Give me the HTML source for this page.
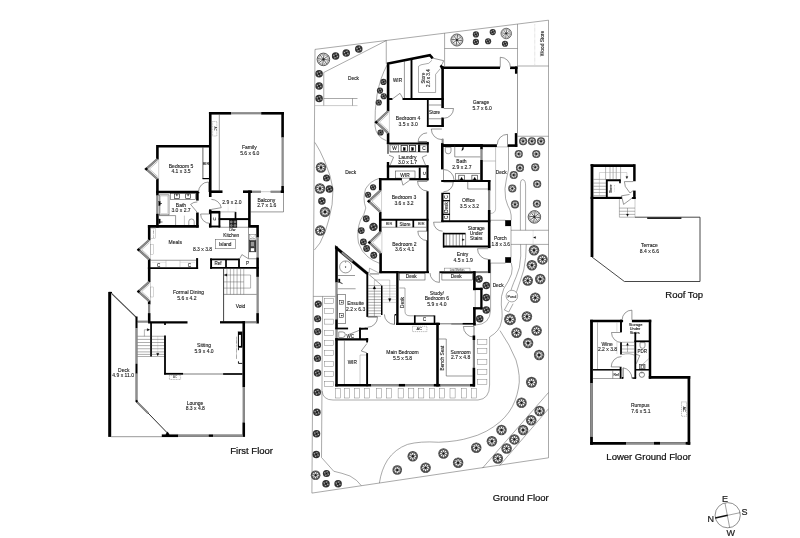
<!DOCTYPE html><html lang="en"><head><meta charset="utf-8"><title>Floor Plan</title><style>html,body{margin:0;padding:0;background:#fff}svg{display:block;filter:grayscale(1) blur(.35px)}text{font-family:"Liberation Sans",sans-serif}</style></head><body><svg width="800" height="538" viewBox="0 0 800 538"><rect width="800" height="538" fill="#fff"/><defs><g id="tb"><circle r="1" fill="#fff" stroke="#2a2a2a" stroke-width=".13"/><g stroke="#3a3a3a" stroke-width=".13" fill="none"><line x1="0" y1="0" x2="0.96" y2="0.13"/><line x1="0" y1="0" x2="0.58" y2="0.77"/><line x1="-0" y1="0" x2="-0.13" y2="0.96"/><line x1="-0" y1="0" x2="-0.77" y2="0.58"/><line x1="-0" y1="-0" x2="-0.96" y2="-0.13"/><line x1="-0" y1="-0" x2="-0.58" y2="-0.77"/><line x1="0" y1="-0" x2="0.13" y2="-0.96"/><line x1="0" y1="-0" x2="0.77" y2="-0.58"/></g><g stroke="#8a8a8a" stroke-width=".1" fill="none"><line x1="0.48" y1="0.27" x2="0.84" y2="0.48"/><line x1="0.14" y1="0.53" x2="0.25" y2="0.94"/><line x1="-0.27" y1="0.48" x2="-0.48" y2="0.84"/><line x1="-0.53" y1="0.14" x2="-0.94" y2="0.25"/><line x1="-0.48" y1="-0.28" x2="-0.84" y2="-0.49"/><line x1="-0.14" y1="-0.53" x2="-0.25" y2="-0.94"/><line x1="0.28" y1="-0.48" x2="0.49" y2="-0.84"/><line x1="0.53" y1="-0.14" x2="0.94" y2="-0.25"/><path d="M0.96 0.13Q0.54 0.31 0.58 0.77"/><path d="M0.58 0.77Q0.16 0.6 -0.13 0.96"/><path d="M-0.13 0.96Q-0.31 0.54 -0.77 0.58"/><path d="M-0.77 0.58Q-0.6 0.16 -0.96 -0.13"/><path d="M-0.96 -0.13Q-0.54 -0.31 -0.58 -0.77"/><path d="M-0.58 -0.77Q-0.16 -0.6 0.13 -0.96"/><path d="M0.13 -0.96Q0.31 -0.54 0.77 -0.58"/><path d="M0.77 -0.58Q0.6 -0.16 0.96 0.13"/></g><circle r=".15" fill="#222"/></g><g id="tm"><circle r=".98" fill="#484848"/><g stroke="#bbb" stroke-width=".1"><line x1="0.71" y1="0.13" x2="0.89" y2="0.16"/><line x1="0.46" y1="0.55" x2="0.58" y2="0.69"/><line x1="0" y1="0.72" x2="0" y2="0.9"/><line x1="-0.46" y1="0.55" x2="-0.58" y2="0.69"/><line x1="-0.71" y1="0.13" x2="-0.89" y2="0.16"/><line x1="-0.62" y1="-0.36" x2="-0.78" y2="-0.45"/><line x1="-0.25" y1="-0.68" x2="-0.31" y2="-0.85"/><line x1="0.25" y1="-0.68" x2="0.31" y2="-0.85"/><line x1="0.62" y1="-0.36" x2="0.78" y2="-0.45"/></g><circle r=".64" fill="#999"/><g stroke="#fff" stroke-width=".27"><line x1="0.22" y1="0" x2="0.6" y2="0"/><line x1="0.16" y1="0.16" x2="0.42" y2="0.42"/><line x1="0" y1="0.22" x2="0" y2="0.6"/><line x1="-0.16" y1="0.16" x2="-0.42" y2="0.42"/><line x1="-0.22" y1="0" x2="-0.6" y2="0"/><line x1="-0.16" y1="-0.16" x2="-0.42" y2="-0.42"/><line x1="-0" y1="-0.22" x2="-0" y2="-0.6"/><line x1="0.16" y1="-0.16" x2="0.42" y2="-0.42"/></g><g stroke="#1a1a1a" stroke-width=".1"><line x1="0" y1="0" x2="0.61" y2="0.25"/><line x1="0" y1="0" x2="0.26" y2="0.61"/><line x1="-0" y1="0" x2="-0.25" y2="0.61"/><line x1="-0" y1="0" x2="-0.61" y2="0.26"/><line x1="-0" y1="-0" x2="-0.61" y2="-0.25"/><line x1="-0" y1="-0" x2="-0.26" y2="-0.61"/><line x1="0" y1="-0" x2="0.25" y2="-0.61"/><line x1="0" y1="-0" x2="0.61" y2="-0.26"/></g><circle r=".2" fill="#1a1a1a"/></g><g id="ts"><circle r="1" fill="#303030"/><circle r=".5" fill="none" stroke="#5c5c5c" stroke-width=".2"/><g stroke="#e0e0e0" stroke-width=".19"><line x1="0.3" y1="0.11" x2="0.66" y2="0.24"/><line x1="-0.11" y1="0.3" x2="-0.24" y2="0.66"/><line x1="-0.3" y1="-0.11" x2="-0.66" y2="-0.24"/><line x1="0.11" y1="-0.3" x2="0.24" y2="-0.66"/></g><circle r=".17" fill="#111"/></g></defs>
<polyline points="315,49.4 548.5,20.2 548.5,457.8 311.9,493.1 315,49.4" fill="none" stroke="#555" stroke-width="0.5"/>
<polyline points="323.75,105.6 323.75,72.5 386.25,40.6 386.25,63.75" fill="none" stroke="#555" stroke-width="0.5"/>
<polyline points="323.75,98.5 357.5,98.5" fill="none" stroke="#555" stroke-width="0.5"/>
<polyline points="315,105.6 357.5,105.6" fill="none" stroke="#999" stroke-width="0.5"/>
<polyline points="352.5,98.5 352.5,105.6" fill="none" stroke="#555" stroke-width="0.5"/>
<text x="353.5" y="79.78" font-size="4.8" text-anchor="middle" fill="#222" stroke="#222" stroke-width=".12">Deck</text>
<polyline points="444.6,33.2 444.6,66.5" fill="none" stroke="#555" stroke-width="0.5"/>
<polyline points="444.6,48.5 517.5,48.5" fill="none" stroke="#555" stroke-width="0.5"/>
<polyline points="517.5,24.1 517.5,66.5" fill="none" stroke="#555" stroke-width="0.5"/>
<polyline points="517.5,66 548.5,66" fill="none" stroke="#555" stroke-width="0.5"/>
<polyline points="534.75,24.4 534.75,65" fill="none" stroke="#999" stroke-width="0.5" stroke-dasharray=".5 .7"/>
<text x="541.9" y="45.18" font-size="4.8" text-anchor="middle" fill="#222" stroke="#222" stroke-width=".12" transform="rotate(-90 541.9 43.5)">Wood Store</text>
<polyline points="517.5,136.25 548.5,136.25" fill="none" stroke="#555" stroke-width="0.5"/>
<path d="M387.3 64.5Q380 78 377 95Q374.6 110 375 126Q376 137 386.6 140.8" fill="none" stroke="#555" stroke-width="0.5"/>
<path d="M315 142.5Q320 150 325 162Q331 176 333 189Q333.2 205 329 219Q326 232 320 243L314.4 250" fill="none" stroke="#555" stroke-width="0.5"/>
<text x="350.6" y="173.58" font-size="4.8" text-anchor="middle" fill="#222" stroke="#222" stroke-width=".12">Deck</text>
<path d="M379.5 178.3Q370 181 365.5 189Q362.5 199 365.8 208Q364.5 215 360.5 220Q356.3 231 358.5 243Q361.5 252 368 257Q373 261 379.5 263.3" fill="none" stroke="#555" stroke-width="0.5"/>
<polyline points="313.3,296.4 335.4,296.4" fill="none" stroke="#555" stroke-width="0.5"/>
<path d="M322.6 296.4L321.5 457.5L333.75 471.25Q342 473 350 476Q357.5 480 361.25 485.6" fill="none" stroke="#555" stroke-width="0.5"/>
<rect x="324.3" y="298.35" width="9.4" height="5" fill="none" stroke="#666" stroke-width="0.4"/>
<rect x="324.3" y="308.6" width="9.4" height="5" fill="none" stroke="#666" stroke-width="0.4"/>
<rect x="324.3" y="319.1" width="9.4" height="5" fill="none" stroke="#666" stroke-width="0.4"/>
<rect x="324.3" y="330.4" width="9.4" height="5" fill="none" stroke="#666" stroke-width="0.4"/>
<rect x="324.3" y="340.6" width="9.4" height="5" fill="none" stroke="#666" stroke-width="0.4"/>
<rect x="324.3" y="350.8" width="9.4" height="5" fill="none" stroke="#666" stroke-width="0.4"/>
<rect x="324.3" y="361.2" width="9.4" height="5" fill="none" stroke="#666" stroke-width="0.4"/>
<rect x="324.3" y="371.5" width="9.4" height="5" fill="none" stroke="#666" stroke-width="0.4"/>
<rect x="324.3" y="381.5" width="9.4" height="5" fill="none" stroke="#666" stroke-width="0.4"/>
<rect x="335.6" y="388.6" width="5.1" height="9.4" fill="none" stroke="#666" stroke-width="0.4"/>
<rect x="344.4" y="388.6" width="5.1" height="9.4" fill="none" stroke="#666" stroke-width="0.4"/>
<rect x="354.4" y="388.6" width="5.1" height="9.4" fill="none" stroke="#666" stroke-width="0.4"/>
<rect x="364.4" y="388.6" width="5.1" height="9.4" fill="none" stroke="#666" stroke-width="0.4"/>
<rect x="376.25" y="388.6" width="5.1" height="9.4" fill="none" stroke="#666" stroke-width="0.4"/>
<rect x="386.25" y="388.6" width="5.1" height="9.4" fill="none" stroke="#666" stroke-width="0.4"/>
<rect x="398.1" y="388.6" width="5.1" height="9.4" fill="none" stroke="#666" stroke-width="0.4"/>
<rect x="408.75" y="388.6" width="5.1" height="9.4" fill="none" stroke="#666" stroke-width="0.4"/>
<rect x="418.75" y="388.6" width="5.1" height="9.4" fill="none" stroke="#666" stroke-width="0.4"/>
<rect x="429.4" y="388.6" width="5.1" height="9.4" fill="none" stroke="#666" stroke-width="0.4"/>
<rect x="439.4" y="388.6" width="5.1" height="9.4" fill="none" stroke="#666" stroke-width="0.4"/>
<rect x="450" y="388.6" width="5.1" height="9.4" fill="none" stroke="#666" stroke-width="0.4"/>
<rect x="461.25" y="388.6" width="5.1" height="9.4" fill="none" stroke="#666" stroke-width="0.4"/>
<rect x="471.4" y="388.6" width="5.1" height="9.4" fill="none" stroke="#666" stroke-width="0.4"/>
<rect x="477.5" y="339.75" width="9.4" height="4.9" fill="none" stroke="#666" stroke-width="0.4"/>
<rect x="477.5" y="348.5" width="9.4" height="4.9" fill="none" stroke="#666" stroke-width="0.4"/>
<rect x="477.5" y="359.4" width="9.4" height="4.9" fill="none" stroke="#666" stroke-width="0.4"/>
<rect x="477.5" y="369.4" width="9.4" height="4.9" fill="none" stroke="#666" stroke-width="0.4"/>
<rect x="477.5" y="379.4" width="9.4" height="4.9" fill="none" stroke="#666" stroke-width="0.4"/>
<path d="M322 391Q323 400 333 400L478 400Q489.6 399 489.6 385L489.6 337Q500 331 501.3 322Q503 317 501.3 305Q500.5 296 503.75 288.75Q509 281 511.5 274Q513 268 511.25 262.75" fill="none" stroke="#555" stroke-width="0.5"/>
<path d="M490.6 263.1L490.6 310Q490 324.6 475.6 325" fill="none" stroke="#555" stroke-width="0.5"/>
<polyline points="490.3,263.1 505.4,263.1" fill="none" stroke="#555" stroke-width="0.5"/>
<text x="498.1" y="286.78" font-size="4.8" text-anchor="middle" fill="#222" stroke="#222" stroke-width=".12">Deck</text>
<path d="M500 330.6Q510 345 516 360Q521 377 518.5 388Q516 402 509 412Q501.25 423 486.25 431.25Q477 436 470 437.5Q458 441.5 438.75 442.25Q420 441 407.5 444.4Q395 449 387.5 460Q381.25 470 379.4 483.1" fill="none" stroke="#555" stroke-width="0.5"/>
<polyline points="548.5,392.5 482.5,468.1" fill="none" stroke="#555" stroke-width="0.5"/>
<polyline points="548.5,408.75 499.6,465.6" fill="none" stroke="#555" stroke-width="0.5"/>
<polyline points="490.3,220.25 505.3,220.25" fill="none" stroke="#555" stroke-width="0.5"/>
<rect x="505.25" y="220.25" width="5.75" height="5.75" fill="#000" stroke="#000" stroke-width="0.2"/>
<rect x="505.25" y="257.25" width="5.75" height="5.5" fill="#000" stroke="#000" stroke-width="0.2"/>
<polyline points="511,226 511,257.25" fill="none" stroke="#555" stroke-width="0.5"/>
<polyline points="511,230.25 548.5,230.25" fill="none" stroke="#555" stroke-width="0.5"/>
<polyline points="511,244.4 548.5,244.4" fill="none" stroke="#555" stroke-width="0.5"/>
<polyline points="533.1,230.25 533.1,244.4" fill="none" stroke="#888" stroke-width="0.4" stroke-dasharray=".6 .6"/>
<path d="M533.4 237.5l2.2 -1v2z" fill="#000" stroke="#000" stroke-width="0.2"/>
<text x="500.3" y="240.18" font-size="4.8" text-anchor="middle" fill="#222" stroke="#222" stroke-width=".12">Porch</text>
<text x="500.8" y="245.58" font-size="4.8" text-anchor="middle" fill="#222" stroke="#222" stroke-width=".12">1.8 x 3.6</text>
<polyline points="482.7,146.9 508.5,146.9" fill="none" stroke="#888" stroke-width="0.5"/>
<polyline points="482.7,161 495.6,161" fill="none" stroke="#888" stroke-width="0.5"/>
<path d="M495.6 146.9L495.6 209Q495.3 213.4 490.3 213.5" fill="none" stroke="#888" stroke-width="0.5"/>
<path d="M508.5 146.9L508.5 170Q507 176 506.25 180Q504 188 505.6 198.75Q507.5 206 510 210Q511.6 215 511.25 220.25" fill="none" stroke="#555" stroke-width="0.5"/>
<text x="501.25" y="173.93" font-size="4.8" text-anchor="middle" fill="#222" stroke="#222" stroke-width=".12">Deck</text>
<path d="M520.4 230.25L520.4 186Q520.2 179.6 522.6 179.6Q525.6 179.6 525.6 186L525.6 230.25" fill="none" stroke="#555" stroke-width="0.5"/>
<path d="M520.6 244.4Q521.5 256 519.4 267.5Q516 278 513.75 282.5Q511.6 288 511 290.2" fill="none" stroke="#555" stroke-width="0.5"/>
<path d="M526.25 244.4Q526.3 258 523.75 270Q520 282 517.5 289Q516.5 292 516 293" fill="none" stroke="#555" stroke-width="0.5"/>
<circle cx="511.9" cy="296.1" r="5.8" fill="#fff" stroke="#555" stroke-width="0.5"/>
<text x="511.9" y="297.5" font-size="3.7" text-anchor="middle" fill="#222" stroke="#222" stroke-width=".12">Pond</text>
<path d="M508.75 301.9L504.4 310L508.75 312L513.1 303.75" fill="none" stroke="#555" stroke-width="0.5"/>
<use href="#tb" transform="translate(323.4 59.4) scale(6.25)"/>
<use href="#tb" transform="translate(456.9 40) scale(6)"/>
<use href="#tb" transform="translate(506.25 33.5) scale(5.25)"/>
<use href="#tm" transform="translate(321 167.5) scale(5.35)"/>
<use href="#tm" transform="translate(320 188.5) scale(5.35)"/>
<use href="#tm" transform="translate(325 211.9) scale(5.35)"/>
<use href="#tm" transform="translate(320.25 230.6) scale(5.35)"/>
<use href="#tb" transform="translate(534.4 216.9) scale(6.25)"/>
<use href="#tm" transform="translate(534 250.25) scale(5.35)"/>
<use href="#tm" transform="translate(542.5 259.4) scale(5.35)"/>
<use href="#tm" transform="translate(531.9 265.25) scale(5.35)"/>
<use href="#tm" transform="translate(527.75 280.6) scale(5.35)"/>
<use href="#tm" transform="translate(540.25 279) scale(5.35)"/>
<use href="#tm" transform="translate(535.25 297.75) scale(5.35)"/>
<use href="#tm" transform="translate(510 319.4) scale(5.99)"/>
<use href="#tm" transform="translate(526.9 316.5) scale(5.35)"/>
<use href="#tm" transform="translate(516.5 332.75) scale(5.35)"/>
<use href="#tm" transform="translate(536.6 330.6) scale(5.35)"/>
<use href="#tm" transform="translate(528.1 343.1) scale(5.35)"/>
<use href="#tm" transform="translate(539.1 355) scale(5.35)"/>
<use href="#tm" transform="translate(531.5 382.25) scale(5.62)"/>
<use href="#tm" transform="translate(521.5 402.75) scale(5.35)"/>
<use href="#tm" transform="translate(539.6 411) scale(5.35)"/>
<use href="#tm" transform="translate(531.25 420.25) scale(5.35)"/>
<use href="#tm" transform="translate(523.1 430) scale(5.35)"/>
<use href="#tm" transform="translate(514.4 439.4) scale(5.35)"/>
<use href="#tm" transform="translate(501.5 430) scale(5.35)"/>
<use href="#tm" transform="translate(491.9 441.25) scale(5.35)"/>
<use href="#tm" transform="translate(506.6 448.5) scale(5.35)"/>
<use href="#tm" transform="translate(497.8 458.5) scale(5.35)"/>
<use href="#tm" transform="translate(397.25 470) scale(4.92)"/>
<use href="#tm" transform="translate(412.75 456.25) scale(5.35)"/>
<use href="#tm" transform="translate(425.6 467.75) scale(5.35)"/>
<use href="#tm" transform="translate(443.5 453.5) scale(5.35)"/>
<use href="#tm" transform="translate(458.1 462.75) scale(5.35)"/>
<use href="#tm" transform="translate(476.25 447.75) scale(5.35)"/>
<use href="#tm" transform="translate(315.6 475.25) scale(4.92)"/>
<use href="#tm" transform="translate(523.1 141.25) scale(4.17)"/>
<use href="#tm" transform="translate(531.9 141.25) scale(4.17)"/>
<use href="#tm" transform="translate(541 141.25) scale(4.17)"/>
<use href="#tm" transform="translate(518.75 154) scale(4.17)"/>
<use href="#tm" transform="translate(536.25 154) scale(4.17)"/>
<use href="#tm" transform="translate(520 167.9) scale(4.17)"/>
<use href="#tm" transform="translate(535.25 167.25) scale(4.17)"/>
<use href="#tm" transform="translate(513.75 175) scale(4.17)"/>
<use href="#tm" transform="translate(537.2 184) scale(4.17)"/>
<use href="#tm" transform="translate(512.3 188.5) scale(4.17)"/>
<use href="#tm" transform="translate(515 204.4) scale(4.17)"/>
<use href="#tm" transform="translate(536.9 203.75) scale(4.17)"/>
<use href="#ts" transform="translate(335.6 56) scale(3.75)"/>
<use href="#ts" transform="translate(346.25 53.1) scale(3.75)"/>
<use href="#ts" transform="translate(358.75 49) scale(3.75)"/>
<use href="#ts" transform="translate(319.1 73.75) scale(3.75)"/>
<use href="#ts" transform="translate(319.1 86) scale(3.75)"/>
<use href="#ts" transform="translate(319.1 98.5) scale(3.75)"/>
<use href="#ts" transform="translate(475.9 34.4) scale(3.1)"/>
<use href="#ts" transform="translate(475.9 41.9) scale(3.1)"/>
<use href="#ts" transform="translate(492.75 32.1) scale(3.1)"/>
<use href="#ts" transform="translate(488.1 41.25) scale(3.1)"/>
<use href="#ts" transform="translate(505 43.75) scale(3.1)"/>
<use href="#ts" transform="translate(383.5 81.9) scale(3.1)"/>
<use href="#ts" transform="translate(380 90.6) scale(3.1)"/>
<use href="#ts" transform="translate(383.75 96.25) scale(3.1)"/>
<use href="#ts" transform="translate(378.75 102.5) scale(3.1)"/>
<use href="#ts" transform="translate(380.6 132.5) scale(3.1)"/>
<use href="#ts" transform="translate(326.5 178.1) scale(3.5)"/>
<use href="#ts" transform="translate(329.4 189) scale(3.75)"/>
<use href="#ts" transform="translate(321.9 201) scale(3.75)"/>
<use href="#ts" transform="translate(373.1 187.25) scale(3.1)"/>
<use href="#ts" transform="translate(368.1 194.75) scale(3.1)"/>
<use href="#ts" transform="translate(366.25 218.75) scale(3.4)"/>
<use href="#ts" transform="translate(373.5 226.9) scale(4.2)"/>
<use href="#ts" transform="translate(361.25 230.6) scale(3.4)"/>
<use href="#ts" transform="translate(363.4 241.9) scale(3.4)"/>
<use href="#ts" transform="translate(366.6 248.5) scale(3.4)"/>
<use href="#ts" transform="translate(373.75 255.25) scale(3.4)"/>
<use href="#ts" transform="translate(479 278.9) scale(3.75)"/>
<use href="#ts" transform="translate(486.25 285.6) scale(3.75)"/>
<use href="#ts" transform="translate(486.25 297.4) scale(3.75)"/>
<use href="#ts" transform="translate(486.25 310) scale(3.75)"/>
<use href="#ts" transform="translate(479.75 318.75) scale(3.75)"/>
<use href="#ts" transform="translate(318.2 304.1) scale(3.6)"/>
<use href="#ts" transform="translate(317.6 318.75) scale(3.6)"/>
<use href="#ts" transform="translate(317.6 331.6) scale(3.6)"/>
<use href="#ts" transform="translate(317.5 345) scale(3.6)"/>
<use href="#ts" transform="translate(317.5 358.4) scale(3.6)"/>
<use href="#ts" transform="translate(317.5 373.1) scale(3.75)"/>
<use href="#ts" transform="translate(317.25 392.25) scale(3.75)"/>
<use href="#ts" transform="translate(316.9 412.25) scale(3.75)"/>
<use href="#ts" transform="translate(316.5 433.75) scale(3.75)"/>
<use href="#ts" transform="translate(316.25 454.4) scale(3.75)"/>
<use href="#ts" transform="translate(326.5 473.5) scale(3.6)"/>
<use href="#ts" transform="translate(326 483.75) scale(3.75)"/>
<use href="#ts" transform="translate(338.1 483.75) scale(3.75)"/>
<text x="520.8" y="501.32" font-size="9.5" text-anchor="middle" fill="#111" stroke="#111" stroke-width=".22">Ground Floor</text>
<polyline points="210.25,112 210.25,197" fill="none" stroke="#000" stroke-width="2.6" stroke-linejoin="miter"/>
<polyline points="208.95,113.3 231.2,113.3" fill="none" stroke="#000" stroke-width="2.6" stroke-linejoin="miter"/>
<polyline points="231.2,113.3 261.2,113.3" fill="none" stroke="#6a6a6a" stroke-width="2"/>
<polyline points="231.2,113.3 261.2,113.3" fill="none" stroke="#8e8e8e" stroke-width="1.2"/>
<polyline points="261.2,113.3 283.9,113.3" fill="none" stroke="#000" stroke-width="2.6" stroke-linejoin="miter"/>
<polyline points="282.6,112 282.6,137.5" fill="none" stroke="#000" stroke-width="2.6" stroke-linejoin="miter"/>
<polyline points="282.6,137.5 282.6,186" fill="none" stroke="#6a6a6a" stroke-width="2"/>
<polyline points="282.6,137.5 282.6,186" fill="none" stroke="#8e8e8e" stroke-width="1.2"/>
<polyline points="282.6,186 282.6,193" fill="none" stroke="#000" stroke-width="2.6" stroke-linejoin="miter"/>
<polyline points="210,191.7 222.5,191.7" fill="none" stroke="#000" stroke-width="2.6" stroke-linejoin="miter"/>
<polyline points="243,191.7 252,191.7" fill="none" stroke="#000" stroke-width="2.6" stroke-linejoin="miter"/>
<polyline points="252,191.7 261,191.7" fill="none" stroke="#6a6a6a" stroke-width="2"/>
<polyline points="252,191.7 261,191.7" fill="none" stroke="#8e8e8e" stroke-width="1.2"/>
<polyline points="261,191.7 270.6,191.7" fill="none" stroke="#999" stroke-width="0.5"/>
<polyline points="270.6,191.7 280.6,191.7" fill="none" stroke="#6a6a6a" stroke-width="2"/>
<polyline points="270.6,191.7 280.6,191.7" fill="none" stroke="#8e8e8e" stroke-width="1.2"/>
<polyline points="280.6,191.7 283.9,191.7" fill="none" stroke="#000" stroke-width="2.6" stroke-linejoin="miter"/>
<polyline points="219.3,114.5 219.3,191.5" fill="none" stroke="#333" stroke-width="0.5"/>
<rect x="212.6" y="121.5" width="4.2" height="14.5" fill="none" stroke="#666" stroke-width="0.4" stroke-dasharray="1 .6"/>
<text x="214.8" y="129.75" font-size="3" text-anchor="middle" fill="#222" transform="rotate(90 214.8 128.7)">AC</text>
<text x="249.3" y="148.75" font-size="5" text-anchor="middle" fill="#222" stroke="#222" stroke-width=".12">Family</text>
<text x="249.8" y="154.95" font-size="5" text-anchor="middle" fill="#222" stroke="#222" stroke-width=".12">5.6 x 6.0</text>
<polyline points="249.4,190.4 249.4,226.4 257.6,226.4 257.6,237.5" fill="none" stroke="#000" stroke-width="2.6" stroke-linejoin="miter"/>
<polyline points="250.2,211.9 283.5,211.9 283.5,193" fill="none" stroke="#333" stroke-width="0.5"/>
<text x="266.3" y="201.75" font-size="5" text-anchor="middle" fill="#222" stroke="#222" stroke-width=".12">Balcony</text>
<text x="266.8" y="207.05" font-size="5" text-anchor="middle" fill="#222" stroke="#222" stroke-width=".12">2.7 x 1.6</text>
<polyline points="157.4,159.5 157.4,146.25 209,146.25" fill="none" stroke="#000" stroke-width="2.6" stroke-linejoin="miter"/>
<polyline points="157.4,178.5 157.4,195.6" fill="none" stroke="#000" stroke-width="2.6" stroke-linejoin="miter"/>
<polyline points="157.4,195.6 157.4,213.75" fill="none" stroke="#6a6a6a" stroke-width="2"/>
<polyline points="157.4,195.6 157.4,213.75" fill="none" stroke="#8e8e8e" stroke-width="1.2"/>
<polyline points="157.4,213.75 157.4,227.5" fill="none" stroke="#000" stroke-width="2.6" stroke-linejoin="miter"/>
<polyline points="157.4,159 146.2,169 157.4,179" fill="none" stroke="#666" stroke-width="2.3"/>
<polyline points="157.4,159 146.2,169 157.4,179" fill="none" stroke="#8e8e8e" stroke-width="1.38"/>
<path d="M144.6 169L146.2 167.5L147.8 169L146.2 170.5z" fill="#000" stroke="#000" stroke-width="0.2"/>
<polyline points="157.6,161.6 149.4,169 157.6,176.4" fill="none" stroke="#555" stroke-width="0.35"/>
<polyline points="158.7,159 158.7,179" fill="none" stroke="#777" stroke-width="0.35"/>
<polyline points="156.1,192 199.4,192" fill="none" stroke="#000" stroke-width="2.6" stroke-linejoin="miter"/>
<polyline points="202.9,147.4 202.9,178.6" fill="none" stroke="#222" stroke-width="0.7"/>
<polyline points="202.5,178.6 209.2,178.6" fill="none" stroke="#000" stroke-width="1.2" stroke-linejoin="miter"/>
<text x="206" y="164.83" font-size="3.8" text-anchor="middle" fill="#222" stroke="#222" stroke-width=".12">BIR</text>
<path d="M208.5 192L208.5 182A10 10 0 0 0 198.5 192" fill="#fff" stroke="#333" stroke-width="0.5"/>
<text x="181" y="168.25" font-size="5" text-anchor="middle" fill="#222" stroke="#222" stroke-width=".12">Bedroom 5</text>
<text x="181" y="173.25" font-size="5" text-anchor="middle" fill="#222" stroke="#222" stroke-width=".12">4.1 x 3.5</text>
<polyline points="197.4,192 197.4,200.6" fill="none" stroke="#000" stroke-width="2.6" stroke-linejoin="miter"/>
<polyline points="197.4,212.5 197.4,227.5" fill="none" stroke="#000" stroke-width="2.6" stroke-linejoin="miter"/>
<path d="M197.4 212.5L190.59 204.38A10.6 10.6 0 0 1 197.4 201.9" fill="#fff" stroke="#333" stroke-width="0.5"/>
<rect x="159.5" y="194.9" width="9.5" height="20" fill="none" stroke="#333" stroke-width="0.5"/>
<rect x="160.6" y="196" width="7.3" height="17.8" fill="none" stroke="#888" stroke-width="0.3"/>
<rect x="170.5" y="193.3" width="25.1" height="6.1" fill="none" stroke="#333" stroke-width="0.5"/>
<rect x="174.5" y="194" width="4.8" height="4.3" fill="none" stroke="#111" stroke-width="0.6"/>
<polyline points="176.9,194 176.9,196.2" fill="none" stroke="#000" stroke-width="0.9"/>
<rect x="185.7" y="194" width="4.8" height="4.3" fill="none" stroke="#111" stroke-width="0.6"/>
<polyline points="188.1,194 188.1,196.2" fill="none" stroke="#000" stroke-width="0.9"/>
<polyline points="159,215.6 175.6,215.6 175.6,225.5" fill="none" stroke="#333" stroke-width="0.5"/>
<polyline points="184.4,215.6 184.4,225.5" fill="none" stroke="#777" stroke-width="0.4"/>
<rect x="158.8" y="201.5" width="1.4" height="4" fill="#000" stroke="#000" stroke-width="0.3"/>
<polyline points="160,203.5 162,203.5" fill="none" stroke="#000" stroke-width="0.6"/>
<rect x="158.8" y="219" width="1.4" height="4.5" fill="#000" stroke="#000" stroke-width="0.3"/>
<polyline points="160,222 162.5,222" fill="none" stroke="#000" stroke-width="0.6"/>
<path d="M188.8 225.5L188.8 221.4A2.7 2.4 0 0 1 194.2 221.4L194.2 225.5" fill="none" stroke="#333" stroke-width="0.5"/>
<text x="181" y="206.65" font-size="5" text-anchor="middle" fill="#222" stroke="#222" stroke-width=".12">Bath</text>
<text x="181" y="211.65" font-size="5" text-anchor="middle" fill="#222" stroke="#222" stroke-width=".12">3.0 x 2.7</text>
<polyline points="210.25,209.4 210.25,227.5" fill="none" stroke="#000" stroke-width="2.6" stroke-linejoin="miter"/>
<polyline points="208.95,212.2 220.25,212.2" fill="none" stroke="#000" stroke-width="2.6" stroke-linejoin="miter"/>
<polyline points="219.4,211.25 219.4,227.5" fill="none" stroke="#000" stroke-width="1.9" stroke-linejoin="miter"/>
<polyline points="209,226.5 220.3,226.5" fill="none" stroke="#000" stroke-width="1.9" stroke-linejoin="miter"/>
<path d="M211.4 209.4L221.25 207.66A10 10 0 0 0 211.4 199.4" fill="#fff" stroke="#333" stroke-width="0.5"/>
<polyline points="218.75,219.1 249,219.1" fill="none" stroke="#000" stroke-width="2" stroke-linejoin="miter"/>
<polyline points="235.5,211.9 235.5,219" fill="none" stroke="#000" stroke-width="1.7" stroke-linejoin="miter"/>
<polyline points="220.3,211.9 235.5,211.9" fill="none" stroke="#999" stroke-width="0.7"/>
<polyline points="228.1,204.5 228.1,211.9" fill="none" stroke="#aaa" stroke-width="0.35" stroke-dasharray=".6 .6"/>
<polyline points="236,204.5 236,211.9" fill="none" stroke="#aaa" stroke-width="0.35" stroke-dasharray=".6 .6"/>
<text x="214.4" y="220.47" font-size="4.2" text-anchor="middle" fill="#222" stroke="#222" stroke-width=".12" transform="rotate(-90 214.4 219)">C</text>
<path d="M210 214L200.6 214A9.4 9.4 0 0 0 210 223.4" fill="#fff" stroke="#333" stroke-width="0.5"/>
<text x="231.9" y="203.65" font-size="5" text-anchor="middle" fill="#222" stroke="#222" stroke-width=".12">2.9 x 2.0</text>
<rect x="229.4" y="220" width="7.5" height="7.4" fill="#222" stroke="#000" stroke-width="0.4"/>
<circle cx="231.3" cy="221.9" r="1" fill="#666" stroke="#ddd" stroke-width="0.35"/>
<circle cx="231.3" cy="225.5" r="1" fill="#666" stroke="#ddd" stroke-width="0.35"/>
<circle cx="235" cy="221.9" r="1" fill="#666" stroke="#ddd" stroke-width="0.35"/>
<circle cx="235" cy="225.5" r="1" fill="#666" stroke="#ddd" stroke-width="0.35"/>
<polyline points="220.3,227.25 248.2,227.25" fill="none" stroke="#333" stroke-width="0.5"/>
<polyline points="147.9,226.4 198.7,226.4" fill="none" stroke="#000" stroke-width="2.6" stroke-linejoin="miter"/>
<polyline points="149.2,225.1 149.2,240.2" fill="none" stroke="#000" stroke-width="2.6" stroke-linejoin="miter"/>
<polyline points="149.2,258.8 149.2,282" fill="none" stroke="#000" stroke-width="2.6" stroke-linejoin="miter"/>
<polyline points="149.2,300.6 149.2,304.4" fill="none" stroke="#000" stroke-width="2.6" stroke-linejoin="miter"/>
<polyline points="149.2,304.4 149.2,313.1" fill="none" stroke="#6a6a6a" stroke-width="2"/>
<polyline points="149.2,304.4 149.2,313.1" fill="none" stroke="#8e8e8e" stroke-width="1.2"/>
<polyline points="149.2,313.1 149.2,322.5" fill="none" stroke="#000" stroke-width="2.6" stroke-linejoin="miter"/>
<polyline points="149.2,240 138.5,249.7 149.2,259.4" fill="none" stroke="#666" stroke-width="2.3"/>
<polyline points="149.2,240 138.5,249.7 149.2,259.4" fill="none" stroke="#8e8e8e" stroke-width="1.38"/>
<path d="M136.9 249.7L138.5 248.2L140.1 249.7L138.5 251.2z" fill="#000" stroke="#000" stroke-width="0.2"/>
<polyline points="149.4,242.6 141.7,249.7 149.4,256.8" fill="none" stroke="#555" stroke-width="0.35"/>
<polyline points="150.5,240 150.5,259.4" fill="none" stroke="#777" stroke-width="0.35"/>
<polyline points="149.2,281.8 138.5,291.5 149.2,301.2" fill="none" stroke="#666" stroke-width="2.3"/>
<polyline points="149.2,281.8 138.5,291.5 149.2,301.2" fill="none" stroke="#8e8e8e" stroke-width="1.38"/>
<path d="M136.9 291.5L138.5 290L140.1 291.5L138.5 293z" fill="#000" stroke="#000" stroke-width="0.2"/>
<polyline points="149.4,284.4 141.7,291.5 149.4,298.6" fill="none" stroke="#555" stroke-width="0.35"/>
<polyline points="150.5,281.8 150.5,301.2" fill="none" stroke="#777" stroke-width="0.35"/>
<rect x="150.8" y="228.75" width="4.8" height="10" fill="none" stroke="#777" stroke-width="0.3"/>
<text x="153.2" y="234.19" font-size="1.4" text-anchor="middle" fill="#777" transform="rotate(90 153.2 233.7)">Window Seat</text>
<rect x="150.6" y="244.4" width="3.2" height="10" fill="none" stroke="#777" stroke-width="0.3"/>
<rect x="150.6" y="287" width="3.2" height="10" fill="none" stroke="#777" stroke-width="0.3"/>
<polyline points="150.4,260.25 196,260.25" fill="none" stroke="#333" stroke-width="0.5"/>
<polyline points="147.9,268.1 198.1,268.1" fill="none" stroke="#000" stroke-width="1.9" stroke-linejoin="miter"/>
<polyline points="197.1,258.1 197.1,269" fill="none" stroke="#000" stroke-width="2" stroke-linejoin="miter"/>
<polyline points="166,260.25 166,267.2" fill="none" stroke="#888" stroke-width="0.35"/>
<polyline points="180,260.25 180,267.2" fill="none" stroke="#888" stroke-width="0.35"/>
<polyline points="152,262.3 166,262.3" fill="none" stroke="#aaa" stroke-width="0.3"/>
<polyline points="180,262.3 195,262.3" fill="none" stroke="#aaa" stroke-width="0.3"/>
<text x="158.75" y="266.51" font-size="4.6" text-anchor="middle" fill="#222" stroke="#222" stroke-width=".12">C</text>
<text x="189.4" y="266.51" font-size="4.6" text-anchor="middle" fill="#222" stroke="#222" stroke-width=".12">C</text>
<polyline points="210,259.4 238.5,259.4" fill="none" stroke="#000" stroke-width="1.8" stroke-linejoin="miter"/>
<polyline points="211.1,258.5 211.1,268.9" fill="none" stroke="#000" stroke-width="1.9" stroke-linejoin="miter"/>
<polyline points="210.1,267.9 258.8,267.9" fill="none" stroke="#000" stroke-width="1.9" stroke-linejoin="miter"/>
<polyline points="226,259.4 226,267.9" fill="none" stroke="#000" stroke-width="1.7" stroke-linejoin="miter"/>
<polyline points="239,258.5 239,267.9" fill="none" stroke="#000" stroke-width="1.8" stroke-linejoin="miter"/>
<text x="218.1" y="265.18" font-size="4.5" text-anchor="middle" fill="#222" stroke="#222" stroke-width=".12">Ref</text>
<text x="247.5" y="265.18" font-size="4.5" text-anchor="middle" fill="#222" stroke="#222" stroke-width=".12">P</text>
<polyline points="239.8,258.5 241.9,254.6 248.2,258.6" fill="none" stroke="#333" stroke-width="0.5"/>
<rect x="215.25" y="239.6" width="20.35" height="9.15" fill="none" stroke="#555" stroke-width="0.5"/>
<text x="225.2" y="245.55" font-size="4.7" text-anchor="middle" fill="#222" stroke="#222" stroke-width=".12">Island</text>
<text x="231.25" y="237.08" font-size="4.8" text-anchor="middle" fill="#222" stroke="#222" stroke-width=".12">Kitchen</text>
<text x="232.25" y="231.16" font-size="3.6" text-anchor="middle" fill="#222" stroke="#222" stroke-width=".12">D/w</text>
<text x="175.25" y="244" font-size="5" text-anchor="middle" fill="#222" stroke="#222" stroke-width=".12">Meals</text>
<text x="202.5" y="250.5" font-size="5" text-anchor="middle" fill="#222" stroke="#222" stroke-width=".12">8.3 x 3.8</text>
<polyline points="248.5,227.5 248.5,258.75 256.3,258.75" fill="none" stroke="#333" stroke-width="0.5"/>
<rect x="249.2" y="234.4" width="6.8" height="5.6" fill="none" stroke="#444" stroke-width="0.4"/>
<polyline points="249.2,234.4 252.6,238 256,234.4" fill="none" stroke="#666" stroke-width="0.3"/>
<text x="252.6" y="239.24" font-size="2.4" text-anchor="middle" fill="#222">D/W</text>
<rect x="249.3" y="240.6" width="6.7" height="11.3" fill="#444" stroke="#000" stroke-width="0.4"/>
<rect x="250.6" y="248" width="3.8" height="3.4" fill="#fff" stroke="#000" stroke-width="0.3"/>
<rect x="250.6" y="241.6" width="3.8" height="5" fill="#999" stroke="#000" stroke-width="0.3"/>
<polyline points="257.6,237.5 257.6,257.5" fill="none" stroke="#6a6a6a" stroke-width="2"/>
<polyline points="257.6,237.5 257.6,257.5" fill="none" stroke="#8e8e8e" stroke-width="1.2"/>
<polyline points="257.6,257.5 257.6,276.9" fill="none" stroke="#000" stroke-width="2.6" stroke-linejoin="miter"/>
<polyline points="257.6,276.9 257.6,313.1" fill="none" stroke="#6a6a6a" stroke-width="2"/>
<polyline points="257.6,276.9 257.6,313.1" fill="none" stroke="#8e8e8e" stroke-width="1.2"/>
<polyline points="257.6,313.1 257.6,323.5" fill="none" stroke="#000" stroke-width="2.6" stroke-linejoin="miter"/>
<polyline points="223.6,268.5 223.6,321.5" fill="none" stroke="#111" stroke-width="0.8"/>
<polyline points="223.75,294.4 256.6,294.4" fill="none" stroke="#333" stroke-width="0.5"/>
<polyline points="226.9,268.8 226.9,294.4" fill="none" stroke="#444" stroke-width="0.4"/>
<polyline points="230.4,268.8 230.4,294.4" fill="none" stroke="#444" stroke-width="0.4"/>
<polyline points="233.75,268.8 233.75,294.4" fill="none" stroke="#444" stroke-width="0.4"/>
<polyline points="237.1,268.8 237.1,294.4" fill="none" stroke="#444" stroke-width="0.4"/>
<polyline points="240.6,268.8 240.6,294.4" fill="none" stroke="#444" stroke-width="0.4"/>
<polyline points="243.75,268.8 243.75,294.4" fill="none" stroke="#444" stroke-width="0.4"/>
<polyline points="223.75,275 250.6,275" fill="none" stroke="#444" stroke-width="0.4"/>
<polyline points="223.75,281.9 243.75,281.9" fill="none" stroke="#444" stroke-width="0.4"/>
<polyline points="223.75,288.1 250.6,288.1" fill="none" stroke="#444" stroke-width="0.4"/>
<polyline points="250.6,275 250.6,288.1" fill="none" stroke="#444" stroke-width="0.4"/>
<path d="M224.2 275l2.7 -1.3v2.6z" fill="#000" stroke="#000" stroke-width="0.2"/>
<text x="240.5" y="307.75" font-size="5" text-anchor="middle" fill="#222" stroke="#222" stroke-width=".12">Void</text>
<text x="188.6" y="294.05" font-size="5" text-anchor="middle" fill="#222" stroke="#222" stroke-width=".12">Formal Dining</text>
<text x="186.9" y="300.05" font-size="5" text-anchor="middle" fill="#222" stroke="#222" stroke-width=".12">5.6 x 4.2</text>
<polyline points="137.5,321.6 148.1,321.6" fill="none" stroke="#6a6a6a" stroke-width="1.9"/>
<polyline points="137.5,321.6 148.1,321.6" fill="none" stroke="#8e8e8e" stroke-width="1.14"/>
<polyline points="148.1,322.3 187.5,322.3" fill="none" stroke="#000" stroke-width="2.3" stroke-linejoin="miter"/>
<polyline points="220,322.3 245,322.3" fill="none" stroke="#000" stroke-width="2.3" stroke-linejoin="miter"/>
<polyline points="245,322.3 256.3,322.3" fill="none" stroke="#6a6a6a" stroke-width="2"/>
<polyline points="245,322.3 256.3,322.3" fill="none" stroke="#8e8e8e" stroke-width="1.2"/>
<polyline points="243.75,321.2 243.75,387.25" fill="none" stroke="#000" stroke-width="2.6" stroke-linejoin="miter"/>
<polyline points="243.75,387.25 243.75,422.5" fill="none" stroke="#6a6a6a" stroke-width="2.2"/>
<polyline points="243.75,387.25 243.75,422.5" fill="none" stroke="#8e8e8e" stroke-width="1.32"/>
<polyline points="243.75,422.5 243.75,436.9" fill="none" stroke="#000" stroke-width="2.6" stroke-linejoin="miter"/>
<polyline points="109.7,291.9 109.7,436.9" fill="none" stroke="#000" stroke-width="3" stroke-linejoin="miter"/>
<polyline points="109,292.6 112,292.6" fill="none" stroke="#000" stroke-width="1.4"/>
<polyline points="111.5,293.4 136,317.2" fill="none" stroke="#444" stroke-width="1.1"/>
<polyline points="136.5,316.5 136.5,328.1" fill="none" stroke="#000" stroke-width="2.1" stroke-linejoin="miter"/>
<polyline points="111,436.7 162,436.7" fill="none" stroke="#999" stroke-width="1"/>
<path d="M161.9 436.9L178.1 436.9L178.1 434.4L169.5 434.4L167.5 431.7L165.5 434.4L161.9 434.4z" fill="#000" stroke="#000" stroke-width="0.2"/>
<polyline points="178.1,435.65 208.75,435.65" fill="none" stroke="#6a6a6a" stroke-width="2.4"/>
<polyline points="178.1,435.65 208.75,435.65" fill="none" stroke="#8e8e8e" stroke-width="1.44"/>
<polyline points="208.75,435.65 213.1,435.65" fill="none" stroke="#000" stroke-width="2.5" stroke-linejoin="miter"/>
<polyline points="213.1,435.65 242.5,435.65" fill="none" stroke="#6a6a6a" stroke-width="2.4"/>
<polyline points="213.1,435.65 242.5,435.65" fill="none" stroke="#8e8e8e" stroke-width="1.44"/>
<polyline points="136.5,328.1 136.5,363.75" fill="none" stroke="#6a6a6a" stroke-width="2.1"/>
<polyline points="136.5,328.1 136.5,363.75" fill="none" stroke="#8e8e8e" stroke-width="1.26"/>
<polyline points="136.5,363.75 136.5,373.75" fill="none" stroke="#000" stroke-width="2.1" stroke-linejoin="miter"/>
<polyline points="136.5,373.75 136.5,400.5" fill="none" stroke="#6a6a6a" stroke-width="2.1"/>
<polyline points="136.5,373.75 136.5,400.5" fill="none" stroke="#8e8e8e" stroke-width="1.26"/>
<polyline points="136.6,401.6 148.1,413.1" fill="none" stroke="#6a6a6a" stroke-width="2"/>
<polyline points="136.6,401.6 148.1,413.1" fill="none" stroke="#8e8e8e" stroke-width="1.2"/>
<circle cx="136.6" cy="401.2" r="1.1" fill="#000" stroke="#000" stroke-width="0.2"/>
<polyline points="148.1,413.1 167.5,433.1" fill="none" stroke="#111" stroke-width="0.9"/>
<polyline points="151.05,323 151.05,356.5" fill="none" stroke="#000" stroke-width="1.7" stroke-linejoin="miter"/>
<polyline points="165,322 165,325" fill="none" stroke="#000" stroke-width="1.7" stroke-linejoin="miter"/>
<polyline points="137.5,336.25 164.5,336.25" fill="none" stroke="#333" stroke-width="0.4"/>
<polyline points="137.5,339.4 164.5,339.4" fill="none" stroke="#333" stroke-width="0.4"/>
<polyline points="137.5,342.5 164.5,342.5" fill="none" stroke="#333" stroke-width="0.4"/>
<polyline points="137.5,345.6 164.5,345.6" fill="none" stroke="#333" stroke-width="0.4"/>
<polyline points="137.5,348.75 164.5,348.75" fill="none" stroke="#333" stroke-width="0.4"/>
<polyline points="137.5,351.9 164.5,351.9" fill="none" stroke="#333" stroke-width="0.4"/>
<polyline points="137.5,354.4 164.5,354.4" fill="none" stroke="#333" stroke-width="0.4"/>
<polyline points="137.5,356.5 164.5,356.5" fill="none" stroke="#333" stroke-width="0.4"/>
<polyline points="144.4,336.25 144.4,329.75 147.5,329.75" fill="none" stroke="#444" stroke-width="0.4"/>
<path d="M147.2 328.5l0 2.5l2.6 -1.25z" fill="#000" stroke="#000" stroke-width="0.2"/>
<polyline points="157.75,336.25 157.75,354" fill="none" stroke="#888" stroke-width="0.4" stroke-dasharray=".6 .5"/>
<path d="M156.5 353.2l2.5 0l-1.25 2.7z" fill="#000" stroke="#000" stroke-width="0.2"/>
<polyline points="165,335.6 165,374.6" fill="none" stroke="#000" stroke-width="1.8" stroke-linejoin="miter"/>
<polyline points="164.1,373.8 183.1,373.8" fill="none" stroke="#000" stroke-width="1.8" stroke-linejoin="miter"/>
<polyline points="183.1,374 223.1,374" fill="none" stroke="#222" stroke-width="0.6"/>
<polyline points="223.1,374 242.5,374" fill="none" stroke="#000" stroke-width="1.7" stroke-linejoin="miter"/>
<rect x="169.4" y="375.2" width="11.2" height="4.3" fill="none" stroke="#555" stroke-width="0.4" stroke-dasharray="1 .6"/>
<text x="175" y="378.38" font-size="2.8" text-anchor="middle" fill="#222">AC</text>
<rect x="238" y="331.7" width="4.3" height="15.9" fill="#000" stroke="#000" stroke-width="0.2"/>
<rect x="239" y="335" width="1.9" height="10.9" fill="#fff" stroke="#fff" stroke-width="0.2"/>
<polyline points="238.45,347.6 238.45,350.2" fill="none" stroke="#000" stroke-width="0.9"/>
<polyline points="238.45,361.3 238.45,363.4 242.3,363.4" fill="none" stroke="#000" stroke-width="0.9"/>
<text x="235.9" y="348.31" font-size="2.3" text-anchor="middle" fill="#222" transform="rotate(-90 235.9 347.5)">Wood Heat. Gas/Open</text>
<text x="204" y="347.15" font-size="5" text-anchor="middle" fill="#222" stroke="#222" stroke-width=".12">Sitting</text>
<text x="204" y="352.65" font-size="5" text-anchor="middle" fill="#222" stroke="#222" stroke-width=".12">5.9 x 4.0</text>
<text x="123.75" y="371.75" font-size="5" text-anchor="middle" fill="#222" stroke="#222" stroke-width=".12">Deck</text>
<text x="123.15" y="377" font-size="5" text-anchor="middle" fill="#222" stroke="#222" stroke-width=".12">4.9 x 11.0</text>
<text x="195" y="404.85" font-size="5" text-anchor="middle" fill="#222" stroke="#222" stroke-width=".12">Lounge</text>
<text x="195.25" y="410.45" font-size="5" text-anchor="middle" fill="#222" stroke="#222" stroke-width=".12">8.3 x 4.8</text>
<text x="251.6" y="453.82" font-size="9.5" text-anchor="middle" fill="#111" stroke="#111" stroke-width=".22">First Floor</text>
<polyline points="388.1,111.3 388.1,63.6 429.9,55.2 432.7,58.3" fill="none" stroke="#000" stroke-width="2.6" stroke-linejoin="miter"/>
<path d="M432.5 58.1L443.61 60.66A11.4 11.4 0 0 1 440.56 66.16" fill="#fff" stroke="#333" stroke-width="0.5"/>
<path d="M439.8 66.2L441.3 64.8L444 67.5L441.3 69z" fill="#000" stroke="#000" stroke-width="0.2"/>
<polyline points="404.4,61 404.4,98.5" fill="none" stroke="#333" stroke-width="0.5"/>
<polyline points="411.5,59.5 411.5,99.4" fill="none" stroke="#000" stroke-width="1.9" stroke-linejoin="miter"/>
<polyline points="388.1,99 392.5,99" fill="none" stroke="#000" stroke-width="1.9" stroke-linejoin="miter"/>
<polyline points="402.5,99 443.7,99" fill="none" stroke="#000" stroke-width="1.9" stroke-linejoin="miter"/>
<polyline points="393,98.5 400,93.3 402.8,98.2" fill="none" stroke="#333" stroke-width="0.5"/>
<polyline points="431.9,60.3 428.75,63.3 421,64.8 418.5,66.3 418.5,92.5 435.6,92.5 435.6,74.4 440.2,68.8" fill="none" stroke="#444" stroke-width="0.45"/>
<text x="397.5" y="82.05" font-size="4.7" text-anchor="middle" fill="#222" stroke="#222" stroke-width=".12">WIR</text>
<text x="423.1" y="79.71" font-size="4.6" text-anchor="middle" fill="#222" stroke="#222" stroke-width=".12" transform="rotate(-90 423.1 78.1)">Store</text>
<text x="428.6" y="79.71" font-size="4.6" text-anchor="middle" fill="#222" stroke="#222" stroke-width=".12" transform="rotate(-90 428.6 78.1)">2.6 x 3.4</text>
<polyline points="441.3,67.8 500,67.8" fill="none" stroke="#000" stroke-width="2.6" stroke-linejoin="miter"/>
<polyline points="510,67.8 517.5,67.8" fill="none" stroke="#000" stroke-width="2.6" stroke-linejoin="miter"/>
<polyline points="516.25,66.5 516.25,73.75" fill="none" stroke="#000" stroke-width="2.6" stroke-linejoin="miter"/>
<path d="M500.25 67.5L500.25 57.25A10.25 10.25 0 0 1 510.5 67.5" fill="#fff" stroke="#333" stroke-width="0.5"/>
<polyline points="442.6,66.5 442.6,108.1" fill="none" stroke="#000" stroke-width="2.6" stroke-linejoin="miter"/>
<polyline points="442.6,117.5 442.6,126.9" fill="none" stroke="#000" stroke-width="2.6" stroke-linejoin="miter"/>
<polyline points="517.5,73.75 517.5,133.1" fill="none" stroke="#333" stroke-width="0.5"/>
<polyline points="516.1,133.1 516.1,146.9" fill="none" stroke="#000" stroke-width="2.6" stroke-linejoin="miter"/>
<polyline points="441.25,145.6 496.9,145.6" fill="none" stroke="#000" stroke-width="2.6" stroke-linejoin="miter"/>
<polyline points="507.5,145.6 517.25,145.6" fill="none" stroke="#000" stroke-width="2.6" stroke-linejoin="miter"/>
<path d="M507.5 144.6L507.5 134.35A10.25 10.25 0 0 0 497.25 144.6" fill="#fff" stroke="#333" stroke-width="0.5"/>
<text x="481" y="103.75" font-size="5" text-anchor="middle" fill="#222" stroke="#222" stroke-width=".12">Garage</text>
<text x="482.2" y="109.65" font-size="5" text-anchor="middle" fill="#222" stroke="#222" stroke-width=".12">5.7 x 6.0</text>
<polyline points="388.1,133.1 388.1,144" fill="none" stroke="#000" stroke-width="2.6" stroke-linejoin="miter"/>
<polyline points="388.1,111.25 376.25,122.17 388.1,133.1" fill="none" stroke="#666" stroke-width="2.3"/>
<polyline points="388.1,111.25 376.25,122.17 388.1,133.1" fill="none" stroke="#8e8e8e" stroke-width="1.38"/>
<path d="M374.65 122.17L376.25 120.67L377.85 122.17L376.25 123.67z" fill="#000" stroke="#000" stroke-width="0.2"/>
<polyline points="388.3,113.85 379.45,122.17 388.3,130.5" fill="none" stroke="#555" stroke-width="0.35"/>
<polyline points="389.4,111.25 389.4,133.1" fill="none" stroke="#777" stroke-width="0.35"/>
<polyline points="427.8,99 427.8,126.9" fill="none" stroke="#000" stroke-width="1.8" stroke-linejoin="miter"/>
<polyline points="426.9,126 443.7,126" fill="none" stroke="#000" stroke-width="1.9" stroke-linejoin="miter"/>
<polyline points="428.7,105 441.5,105" fill="none" stroke="#333" stroke-width="0.5"/>
<polyline points="428.7,118.75 441.5,118.75" fill="none" stroke="#333" stroke-width="0.5"/>
<text x="434.6" y="113.81" font-size="4.6" text-anchor="middle" fill="#222" stroke="#222" stroke-width=".12">Store</text>
<path d="M443.75 108.5L453.5 108.5A9.75 9.75 0 0 1 443.75 118.25" fill="#fff" stroke="#333" stroke-width="0.5"/>
<path d="M441.9 129L431.3 129A10.6 10.6 0 0 0 441.9 139.6" fill="#fff" stroke="#333" stroke-width="0.5"/>
<polyline points="427.8,141.9 427.8,152.5" fill="none" stroke="#000" stroke-width="1.8" stroke-linejoin="miter"/>
<path d="M427.1 141.9L418.1 141.9A9 9 0 0 1 427.1 132.9" fill="#fff" stroke="#333" stroke-width="0.5"/>
<polyline points="418.2,141.9 427,141.9" fill="none" stroke="#6a6a6a" stroke-width="1.6"/>
<polyline points="418.2,141.9 427,141.9" fill="none" stroke="#8e8e8e" stroke-width="0.96"/>
<text x="408.1" y="120.15" font-size="5" text-anchor="middle" fill="#222" stroke="#222" stroke-width=".12">Bedroom 4</text>
<text x="408.1" y="125.55" font-size="5" text-anchor="middle" fill="#222" stroke="#222" stroke-width=".12">3.5 x 3.0</text>
<polyline points="442.6,138.75 442.6,143.1" fill="none" stroke="#6a6a6a" stroke-width="1.8"/>
<polyline points="442.6,138.75 442.6,143.1" fill="none" stroke="#8e8e8e" stroke-width="1.08"/>
<polyline points="386.9,143.5 428.7,143.5" fill="none" stroke="#000" stroke-width="2" stroke-linejoin="miter"/>
<polyline points="388,144.4 388,153.75" fill="none" stroke="#6a6a6a" stroke-width="1.9"/>
<polyline points="388,144.4 388,153.75" fill="none" stroke="#8e8e8e" stroke-width="1.14"/>
<polyline points="388,162 388,180" fill="none" stroke="#000" stroke-width="2.4" stroke-linejoin="miter"/>
<polyline points="386.9,166.4 428.5,166.4" fill="none" stroke="#000" stroke-width="2.3" stroke-linejoin="miter"/>
<polyline points="390,151.9 427.5,151.9" fill="none" stroke="#333" stroke-width="0.5"/>
<rect x="390" y="145" width="8.75" height="6.9" fill="none" stroke="#333" stroke-width="0.5"/>
<text x="394.6" y="150.18" font-size="4.8" text-anchor="middle" fill="#222" stroke="#222" stroke-width=".12">W</text>
<rect x="401.05" y="145.6" width="6.4" height="5.7" fill="none" stroke="#111" stroke-width="0.7"/>
<rect x="403.25" y="147.5" width="2" height="3" fill="#000" stroke="#000" stroke-width="0.3"/>
<rect x="409.3" y="145.6" width="6.4" height="5.7" fill="none" stroke="#111" stroke-width="0.7"/>
<rect x="411.5" y="147.5" width="2" height="3" fill="#000" stroke="#000" stroke-width="0.3"/>
<polyline points="419,144.4 419,151.9" fill="none" stroke="#000" stroke-width="1.9" stroke-linejoin="miter"/>
<rect x="420" y="145" width="7.5" height="6.9" fill="none" stroke="#333" stroke-width="0.5"/>
<text x="424" y="150.43" font-size="4.8" text-anchor="middle" fill="#222" stroke="#222" stroke-width=".12">C</text>
<polyline points="389,155.2 393.6,157.2 390,165.4" fill="none" stroke="#333" stroke-width="0.5"/>
<polyline points="426.8,155.2 422.2,157.2 425.6,165.4" fill="none" stroke="#333" stroke-width="0.5"/>
<text x="407.5" y="159" font-size="5" text-anchor="middle" fill="#222" stroke="#222" stroke-width=".12">Laundry</text>
<text x="407.5" y="164.25" font-size="5" text-anchor="middle" fill="#222" stroke="#222" stroke-width=".12">3.0 x 1.7</text>
<polyline points="419.7,167.5 419.7,178.75" fill="none" stroke="#000" stroke-width="1.9" stroke-linejoin="miter"/>
<rect x="395.6" y="171" width="19.4" height="7.1" fill="none" stroke="#333" stroke-width="0.5"/>
<text x="405" y="176.68" font-size="4.8" text-anchor="middle" fill="#222" stroke="#222" stroke-width=".12">WIR</text>
<text x="424.6" y="174.64" font-size="4.4" text-anchor="middle" fill="#222" stroke="#222" stroke-width=".12" transform="rotate(-90 424.6 173.1)">C</text>
<polyline points="379,179.2 401.9,179.2" fill="none" stroke="#000" stroke-width="2.2" stroke-linejoin="miter"/>
<polyline points="409.4,179.2 428.5,179.2" fill="none" stroke="#000" stroke-width="2.2" stroke-linejoin="miter"/>
<polyline points="401.7,180.3 402.9,185.2 409.6,180.3" fill="none" stroke="#333" stroke-width="0.5"/>
<polyline points="427.5,165.25 427.5,180.3" fill="none" stroke="#000" stroke-width="2.1" stroke-linejoin="miter"/>
<polyline points="427.5,191.25 427.5,273" fill="none" stroke="#000" stroke-width="2.1" stroke-linejoin="miter"/>
<path d="M427.5 181L417.5 181A10 10 0 0 0 427.5 191" fill="#fff" stroke="#333" stroke-width="0.5"/>
<polyline points="418,181 427,181" fill="none" stroke="#999" stroke-width="1.4"/>
<polyline points="418,181 427,181" fill="none" stroke="#8e8e8e" stroke-width="0.84"/>
<polyline points="380.25,178.1 380.25,190.6" fill="none" stroke="#000" stroke-width="2.6" stroke-linejoin="miter"/>
<polyline points="380.25,211.9 380.25,231.9" fill="none" stroke="#000" stroke-width="2.6" stroke-linejoin="miter"/>
<polyline points="380.6,253.1 380.6,273.1" fill="none" stroke="#000" stroke-width="2.6" stroke-linejoin="miter"/>
<polyline points="380.25,190.6 368.75,201.25 380.25,211.9" fill="none" stroke="#666" stroke-width="2.3"/>
<polyline points="380.25,190.6 368.75,201.25 380.25,211.9" fill="none" stroke="#8e8e8e" stroke-width="1.38"/>
<path d="M367.15 201.25L368.75 199.75L370.35 201.25L368.75 202.75z" fill="#000" stroke="#000" stroke-width="0.2"/>
<polyline points="380.45,193.2 371.95,201.25 380.45,209.3" fill="none" stroke="#555" stroke-width="0.35"/>
<polyline points="381.55,190.6 381.55,211.9" fill="none" stroke="#777" stroke-width="0.35"/>
<polyline points="380.6,231.9 369.4,242.5 380.6,253.1" fill="none" stroke="#666" stroke-width="2.3"/>
<polyline points="380.6,231.9 369.4,242.5 380.6,253.1" fill="none" stroke="#8e8e8e" stroke-width="1.38"/>
<path d="M367.8 242.5L369.4 241L371 242.5L369.4 244z" fill="#000" stroke="#000" stroke-width="0.2"/>
<polyline points="380.8,234.5 372.6,242.5 380.8,250.5" fill="none" stroke="#555" stroke-width="0.35"/>
<polyline points="381.9,231.9 381.9,253.1" fill="none" stroke="#777" stroke-width="0.35"/>
<polyline points="379,219.7 428.5,219.7" fill="none" stroke="#000" stroke-width="1.9" stroke-linejoin="miter"/>
<polyline points="381.5,227.25 426.5,227.25" fill="none" stroke="#333" stroke-width="0.5"/>
<polyline points="396.4,219.7 396.4,227.25" fill="none" stroke="#000" stroke-width="1.7" stroke-linejoin="miter"/>
<polyline points="413.3,219.7 413.3,227.25" fill="none" stroke="#000" stroke-width="1.7" stroke-linejoin="miter"/>
<text x="389" y="225.37" font-size="3.9" text-anchor="middle" fill="#444" stroke="#444" stroke-width=".12">BIR</text>
<text x="405" y="225.61" font-size="4.6" text-anchor="middle" fill="#222" stroke="#222" stroke-width=".12">Store</text>
<text x="421.25" y="225.37" font-size="3.9" text-anchor="middle" fill="#444" stroke="#444" stroke-width=".12">BIR</text>
<text x="404" y="199.25" font-size="5" text-anchor="middle" fill="#222" stroke="#222" stroke-width=".12">Bedroom 3</text>
<text x="404" y="204.85" font-size="5" text-anchor="middle" fill="#222" stroke="#222" stroke-width=".12">3.6 x 3.2</text>
<text x="404.4" y="246.35" font-size="5" text-anchor="middle" fill="#222" stroke="#222" stroke-width=".12">Bedroom 2</text>
<text x="404.6" y="251.45" font-size="5" text-anchor="middle" fill="#222" stroke="#222" stroke-width=".12">3.6 x 4.1</text>
<path d="M427.2 231.2L417.8 231.2A9.4 9.4 0 0 0 427.2 240.6" fill="#fff" stroke="#333" stroke-width="0.5"/>
<polyline points="442.3,143.1 442.3,169.4" fill="none" stroke="#000" stroke-width="2.6" stroke-linejoin="miter"/>
<polyline points="441,145.6 482.7,145.6" fill="none" stroke="#000" stroke-width="2.6" stroke-linejoin="miter"/>
<polyline points="481.5,144.3 481.5,149.4" fill="none" stroke="#000" stroke-width="2.6" stroke-linejoin="miter"/>
<polyline points="481.5,149.4 481.5,160" fill="none" stroke="#6a6a6a" stroke-width="2"/>
<polyline points="481.5,149.4 481.5,160" fill="none" stroke="#8e8e8e" stroke-width="1.2"/>
<polyline points="481.5,160 481.5,182" fill="none" stroke="#000" stroke-width="2.6" stroke-linejoin="miter"/>
<polyline points="441.2,181 490.3,181" fill="none" stroke="#000" stroke-width="2.2" stroke-linejoin="miter"/>
<path d="M443.5 180L443.5 169.5A10.5 10.5 0 0 1 454 180" fill="#fff" stroke="#333" stroke-width="0.5"/>
<path d="M443.5 182L453.25 182A9.75 9.75 0 0 1 443.5 191.75" fill="#fff" stroke="#333" stroke-width="0.5"/>
<path d="M445.3 147.3L451 147.3L451 151.2A2.85 2.6 0 0 1 445.3 151.2z" fill="none" stroke="#333" stroke-width="0.5"/>
<polyline points="454.75,145.4 454.75,156.9 480.3,156.9" fill="none" stroke="#333" stroke-width="0.5"/>
<path d="M461.6 150.8l1-3.6l1.2 .3l-.6 2.2z" fill="#000" stroke="#000" stroke-width="0.2"/>
<polyline points="463.5,146.6 466,146.2" fill="none" stroke="#000" stroke-width="0.5"/>
<rect x="455.6" y="173.75" width="24.7" height="6.25" fill="none" stroke="#333" stroke-width="0.5"/>
<rect x="458.8" y="175.2" width="5.6" height="4.8" fill="none" stroke="#222" stroke-width="0.6"/>
<path d="M460 180l1.6 -3l1.6 3z" fill="#000" stroke="#000" stroke-width="0.2"/>
<rect x="471.9" y="175.2" width="5.6" height="4.8" fill="none" stroke="#222" stroke-width="0.6"/>
<path d="M473.1 180l1.6 -3l1.6 3z" fill="#000" stroke="#000" stroke-width="0.2"/>
<text x="461.5" y="163.35" font-size="5" text-anchor="middle" fill="#222" stroke="#222" stroke-width=".12">Bath</text>
<text x="461.9" y="168.95" font-size="5" text-anchor="middle" fill="#222" stroke="#222" stroke-width=".12">2.9 x 2.7</text>
<polyline points="489.2,180 489.2,190.6" fill="none" stroke="#000" stroke-width="2.6" stroke-linejoin="miter"/>
<polyline points="489.2,190.6 489.2,210" fill="none" stroke="#6a6a6a" stroke-width="2"/>
<polyline points="489.2,190.6 489.2,210" fill="none" stroke="#8e8e8e" stroke-width="1.2"/>
<polyline points="489.2,210 489.2,248.1" fill="none" stroke="#000" stroke-width="2.6" stroke-linejoin="miter"/>
<polyline points="489.2,259.4 489.2,273.1" fill="none" stroke="#000" stroke-width="2.6" stroke-linejoin="miter"/>
<polyline points="467.75,182 467.75,189 488,189" fill="none" stroke="#333" stroke-width="0.5"/>
<polyline points="442.4,192.75 442.4,222.2" fill="none" stroke="#000" stroke-width="2.2" stroke-linejoin="miter"/>
<polyline points="441.25,221.25 490.3,221.25" fill="none" stroke="#000" stroke-width="2" stroke-linejoin="miter"/>
<polyline points="449.6,193 449.6,221" fill="none" stroke="#111" stroke-width="0.7"/>
<polyline points="443,193.4 449.9,193.4" fill="none" stroke="#000" stroke-width="1.3" stroke-linejoin="miter"/>
<polyline points="443,200.7 449.9,200.7" fill="none" stroke="#000" stroke-width="1.3" stroke-linejoin="miter"/>
<polyline points="443,214.3 449.9,214.3" fill="none" stroke="#000" stroke-width="1.3" stroke-linejoin="miter"/>
<text x="446.5" y="198.61" font-size="4.6" text-anchor="middle" fill="#222" stroke="#222" stroke-width=".12" transform="rotate(-90 446.5 197)">C</text>
<text x="446.4" y="209.01" font-size="4.6" text-anchor="middle" fill="#222" stroke="#222" stroke-width=".12" transform="rotate(-90 446.4 207.4)">Desk</text>
<text x="446.5" y="218.91" font-size="4.6" text-anchor="middle" fill="#222" stroke="#222" stroke-width=".12" transform="rotate(-90 446.5 217.3)">C</text>
<text x="468.5" y="202.35" font-size="5" text-anchor="middle" fill="#222" stroke="#222" stroke-width=".12">Office</text>
<text x="469.4" y="207.75" font-size="5" text-anchor="middle" fill="#222" stroke="#222" stroke-width=".12">3.5 x 3.2</text>
<path d="M442.6 222.2L433.6 222.2A9 9 0 0 0 442.6 231.2" fill="#fff" stroke="#333" stroke-width="0.5"/>
<polyline points="443.6,232.75 443.6,247.5" fill="none" stroke="#000" stroke-width="1.6" stroke-linejoin="miter"/>
<polyline points="443,233.6 465.6,233.6" fill="none" stroke="#000" stroke-width="1.6" stroke-linejoin="miter"/>
<polyline points="443.1,246.6 490.3,246.6" fill="none" stroke="#000" stroke-width="2" stroke-linejoin="miter"/>
<polyline points="446.25,234 446.25,246" fill="none" stroke="#222" stroke-width="0.45"/>
<polyline points="449.75,234 449.75,246" fill="none" stroke="#222" stroke-width="0.45"/>
<polyline points="453.1,234 453.1,246" fill="none" stroke="#222" stroke-width="0.45"/>
<polyline points="456.25,234 456.25,246" fill="none" stroke="#222" stroke-width="0.45"/>
<polyline points="459.4,234 459.4,246" fill="none" stroke="#222" stroke-width="0.45"/>
<polyline points="462.5,234 462.5,246" fill="none" stroke="#222" stroke-width="0.45"/>
<polyline points="465.6,234 465.6,246" fill="none" stroke="#222" stroke-width="0.45"/>
<path d="M462.3 238.7l2.2 1.05l-2.2 1.05z" fill="#000" stroke="#000" stroke-width="0.2"/>
<text x="476.25" y="229.78" font-size="4.8" text-anchor="middle" fill="#222" stroke="#222" stroke-width=".12">Storage</text>
<text x="476.25" y="235.08" font-size="4.8" text-anchor="middle" fill="#222" stroke="#222" stroke-width=".12">Under</text>
<text x="476.25" y="240.28" font-size="4.8" text-anchor="middle" fill="#222" stroke="#222" stroke-width=".12">Stairs</text>
<text x="462.5" y="256.15" font-size="5" text-anchor="middle" fill="#222" stroke="#222" stroke-width=".12">Entry</text>
<text x="463.1" y="261.75" font-size="5" text-anchor="middle" fill="#222" stroke="#222" stroke-width=".12">4.5 x 1.9</text>
<path d="M488.1 248.7L477.5 248.7A10.6 10.6 0 0 0 488.1 259.3" fill="#fff" stroke="#333" stroke-width="0.5"/>
<polyline points="379.4,272.2 398.6,272.2" fill="none" stroke="#000" stroke-width="2.3" stroke-linejoin="miter"/>
<polyline points="397.4,271 397.4,325" fill="none" stroke="#000" stroke-width="2.4" stroke-linejoin="miter"/>
<polyline points="398.5,272.2 429,272.2" fill="none" stroke="#000" stroke-width="2" stroke-linejoin="miter"/>
<polyline points="439.4,272.2 475.6,272.2" fill="none" stroke="#000" stroke-width="2" stroke-linejoin="miter"/>
<polyline points="475.6,272.2 488.1,272.2" fill="none" stroke="#6a6a6a" stroke-width="1.8"/>
<polyline points="475.6,272.2 488.1,272.2" fill="none" stroke="#8e8e8e" stroke-width="1.08"/>
<path d="M439.4 273L439.4 282.4A9.4 9.4 0 0 1 430 273" fill="#fff" stroke="#333" stroke-width="0.5"/>
<rect x="444.4" y="268.1" width="25.6" height="3.1" fill="none" stroke="#555" stroke-width="0.4"/>
<text x="457.2" y="270.61" font-size="2.6" text-anchor="middle" fill="#222">Low Shelves</text>
<rect x="399.4" y="273.5" width="25.6" height="6.5" fill="none" stroke="#333" stroke-width="0.5"/>
<text x="411.25" y="278.38" font-size="4.8" text-anchor="middle" fill="#222" stroke="#222" stroke-width=".12">Desk</text>
<rect x="441.9" y="273.2" width="30.6" height="6.8" fill="none" stroke="#333" stroke-width="0.5"/>
<text x="456.25" y="278.48" font-size="4.8" text-anchor="middle" fill="#222" stroke="#222" stroke-width=".12">Desk</text>
<polyline points="474.4,271.2 474.4,290.2" fill="none" stroke="#000" stroke-width="2.6" stroke-linejoin="miter"/>
<polyline points="473.1,288.9 482.6,288.9" fill="none" stroke="#000" stroke-width="2.3" stroke-linejoin="miter"/>
<polyline points="481.4,287.75 481.4,309.4" fill="none" stroke="#000" stroke-width="2.3" stroke-linejoin="miter"/>
<polyline points="473.1,308.3 482.6,308.3" fill="none" stroke="#000" stroke-width="2.3" stroke-linejoin="miter"/>
<polyline points="474.4,307.25 474.4,325.6" fill="none" stroke="#000" stroke-width="2.6" stroke-linejoin="miter"/>
<polyline points="475.2,290 475.2,307.3" fill="none" stroke="#666" stroke-width="0.5"/>
<polyline points="396.2,323.9 440,323.9" fill="none" stroke="#000" stroke-width="2.3" stroke-linejoin="miter"/>
<polyline points="440,323.8 451.25,323.8" fill="none" stroke="#111" stroke-width="0.6"/>
<polyline points="451.25,323.8 462.5,323.8" fill="none" stroke="#6a6a6a" stroke-width="1.6"/>
<polyline points="451.25,323.8 462.5,323.8" fill="none" stroke="#8e8e8e" stroke-width="0.96"/>
<polyline points="462.5,323.8 475.6,323.8" fill="none" stroke="#000" stroke-width="1.7" stroke-linejoin="miter"/>
<path d="M399.4 288L405 288L405 311.5Q405 315.8 410 315.8L414 315.8" fill="none" stroke="#555" stroke-width="0.5"/>
<text x="402.25" y="304.18" font-size="4.8" text-anchor="middle" fill="#222" stroke="#222" stroke-width=".12" transform="rotate(-90 402.25 302.5)">Desk</text>
<polyline points="414.8,315.5 414.8,323" fill="none" stroke="#000" stroke-width="1.7" stroke-linejoin="miter"/>
<polyline points="414,315.9 434,315.9" fill="none" stroke="#111" stroke-width="0.9"/>
<polyline points="434.5,315.4 434.5,323" fill="none" stroke="#000" stroke-width="1.6" stroke-linejoin="miter"/>
<text x="424.5" y="321.48" font-size="4.8" text-anchor="middle" fill="#222" stroke="#222" stroke-width=".12">C</text>
<text x="436.9" y="294.75" font-size="5" text-anchor="middle" fill="#222" stroke="#222" stroke-width=".12">Study/</text>
<text x="436.9" y="300.15" font-size="5" text-anchor="middle" fill="#222" stroke="#222" stroke-width=".12">Bedroom 6</text>
<text x="436.9" y="305.65" font-size="5" text-anchor="middle" fill="#222" stroke="#222" stroke-width=".12">5.9 x 4.0</text>
<rect x="412.5" y="326.25" width="14.4" height="5.35" fill="none" stroke="#555" stroke-width="0.4" stroke-dasharray="1.2 .7"/>
<text x="419.4" y="330.4" font-size="4" text-anchor="middle" fill="#222" stroke="#222" stroke-width=".12">AC</text>
<polyline points="336.5,246.5 336.5,282.5" fill="none" stroke="#000" stroke-width="2.6" stroke-linejoin="miter"/>
<polyline points="336.5,282.5 336.5,319.4" fill="none" stroke="#6a6a6a" stroke-width="2"/>
<polyline points="336.5,282.5 336.5,319.4" fill="none" stroke="#8e8e8e" stroke-width="1.2"/>
<polyline points="336.5,319.4 336.5,328.75" fill="none" stroke="#000" stroke-width="2.6" stroke-linejoin="miter"/>
<polyline points="336.5,328.75 336.5,338.1" fill="none" stroke="#6a6a6a" stroke-width="2"/>
<polyline points="336.5,328.75 336.5,338.1" fill="none" stroke="#8e8e8e" stroke-width="1.2"/>
<polyline points="336.5,338.1 336.5,386.5" fill="none" stroke="#000" stroke-width="2.6" stroke-linejoin="miter"/>
<path d="M335.2 245.2L368.5 272.7L366.3 274.5L335.2 248.8z" fill="#000" stroke="#000" stroke-width="0.2"/>
<polyline points="341.9,252.4 352.5,261.3" fill="none" stroke="#6a6a6a" stroke-width="2.2"/>
<polyline points="341.9,252.4 352.5,261.3" fill="none" stroke="#8e8e8e" stroke-width="1.32"/>
<polyline points="367.3,272.5 367.3,316.9" fill="none" stroke="#000" stroke-width="1.9" stroke-linejoin="miter"/>
<circle cx="345.6" cy="266.9" r="6" fill="none" stroke="#333" stroke-width="0.5"/>
<circle cx="345.6" cy="266.9" r="0.5" fill="#000" stroke="#000" stroke-width="0.2"/>
<polyline points="345.6,261.5 345.6,262.6" fill="none" stroke="#000" stroke-width="0.6"/>
<polyline points="337.75,275.5 355,275.5" fill="none" stroke="#333" stroke-width="0.5"/>
<polyline points="337.75,288.75 355.6,288.75" fill="none" stroke="#888" stroke-width="0.8"/>
<rect x="338.5" y="279" width="1.5" height="3.5" fill="#000" stroke="#000" stroke-width="0.3"/>
<polyline points="340,282.5 342.5,283.6" fill="none" stroke="#000" stroke-width="0.8"/>
<rect x="337.75" y="294.4" width="7.85" height="29.35" fill="none" stroke="#333" stroke-width="0.5"/>
<rect x="339.6" y="300.35" width="3.8" height="3.8" fill="none" stroke="#111" stroke-width="0.5"/>
<circle cx="341.8" cy="302.25" r="0.6" fill="#000" stroke="#000" stroke-width="0.2"/>
<rect x="339.6" y="313.7" width="3.8" height="3.8" fill="none" stroke="#111" stroke-width="0.5"/>
<circle cx="341.8" cy="315.6" r="0.6" fill="#000" stroke="#000" stroke-width="0.2"/>
<text x="355.6" y="304.85" font-size="5" text-anchor="middle" fill="#222" stroke="#222" stroke-width=".12">Ensuite</text>
<text x="355.6" y="310.5" font-size="5" text-anchor="middle" fill="#222" stroke="#222" stroke-width=".12">2.2 x 6.3</text>
<polyline points="368.2,285.6 381,285.6" fill="none" stroke="#333" stroke-width="0.4"/>
<polyline points="368.2,288.4 381,288.4" fill="none" stroke="#333" stroke-width="0.4"/>
<polyline points="368.2,291.2 381,291.2" fill="none" stroke="#333" stroke-width="0.4"/>
<polyline points="368.2,294 381,294" fill="none" stroke="#333" stroke-width="0.4"/>
<polyline points="368.2,296.8 381,296.8" fill="none" stroke="#333" stroke-width="0.4"/>
<polyline points="368.2,299.6 381,299.6" fill="none" stroke="#333" stroke-width="0.4"/>
<polyline points="368.2,302.4 381,302.4" fill="none" stroke="#333" stroke-width="0.4"/>
<polyline points="368.2,305.2 381,305.2" fill="none" stroke="#333" stroke-width="0.4"/>
<polyline points="368.2,308 381,308" fill="none" stroke="#333" stroke-width="0.4"/>
<polyline points="368.2,310.8 381,310.8" fill="none" stroke="#333" stroke-width="0.4"/>
<polyline points="368.2,313.6 381,313.6" fill="none" stroke="#333" stroke-width="0.4"/>
<polyline points="368.2,316.3 381,316.3" fill="none" stroke="#333" stroke-width="0.4"/>
<polyline points="382.5,285.6 396.2,285.6" fill="none" stroke="#999" stroke-width="0.4"/>
<polyline points="382.5,288.4 396.2,288.4" fill="none" stroke="#999" stroke-width="0.4"/>
<polyline points="382.5,291.2 396.2,291.2" fill="none" stroke="#999" stroke-width="0.4"/>
<polyline points="382.5,294 396.2,294" fill="none" stroke="#999" stroke-width="0.4"/>
<polyline points="382.5,296.8 396.2,296.8" fill="none" stroke="#999" stroke-width="0.4"/>
<polyline points="382.5,299.6 396.2,299.6" fill="none" stroke="#999" stroke-width="0.4"/>
<polyline points="382.5,302.4 396.2,302.4" fill="none" stroke="#999" stroke-width="0.4"/>
<polyline points="381.75,285.6 381.75,315" fill="none" stroke="#000" stroke-width="1.5" stroke-linejoin="miter"/>
<polyline points="368.1,273.75 381.9,285.6" fill="none" stroke="#444" stroke-width="0.5"/>
<polyline points="374.4,316 374.4,288" fill="none" stroke="#444" stroke-width="0.4"/>
<path d="M373 289l1.4 -3.2l1.4 3.2z" fill="#000" stroke="#000" stroke-width="0.2"/>
<polyline points="374.4,285.6 374.4,280 389.75,280 389.75,299" fill="none" stroke="#777" stroke-width="0.4"/>
<path d="M388.35 298.6l1.4 3.2l1.4 -3.2z" fill="#000" stroke="#000" stroke-width="0.2"/>
<polyline points="369.5,268.2 379.4,273.2" fill="none" stroke="#555" stroke-width="0.45"/>
<polyline points="369.5,268.2 369,273.5" fill="none" stroke="#555" stroke-width="0.45"/>
<polyline points="370,273.9 379,273.9" fill="none" stroke="#999" stroke-width="1"/>
<polyline points="370,273.9 379,273.9" fill="none" stroke="#8e8e8e" stroke-width="0.6"/>
<polyline points="368.2,316.6 377.5,316.6" fill="none" stroke="#333" stroke-width="0.5"/>
<path d="M367.5 317.25L377.5 317.25A10 10 0 0 1 367.5 327.25" fill="#fff" stroke="#333" stroke-width="0.5"/>
<polyline points="366.5,327.5 349,334.4" fill="none" stroke="#333" stroke-width="0.5"/>
<polyline points="394.5,314.5 394.5,324.5" fill="none" stroke="#666" stroke-width="1"/>
<path d="M384.4 314.4A10 10 0 0 0 394.4 324.4" fill="none" stroke="#333" stroke-width="0.5"/>
<rect x="395" y="314.2" width="1.3" height="1.1" fill="#000" stroke="#000" stroke-width="0.2"/>
<polyline points="335.25,328.5 348.1,328.5" fill="none" stroke="#000" stroke-width="1.8" stroke-linejoin="miter"/>
<polyline points="335.25,339.4 368.2,339.4" fill="none" stroke="#000" stroke-width="2.4" stroke-linejoin="miter"/>
<polyline points="360,327.75 360,339.4" fill="none" stroke="#000" stroke-width="1.9" stroke-linejoin="miter"/>
<polyline points="359,328.7 368,328.7" fill="none" stroke="#000" stroke-width="1.9" stroke-linejoin="miter"/>
<path d="M338.75 331.9L342.5 331.9A2.8 2.8 0 0 1 342.5 337.5L338.75 337.5z" fill="none" stroke="#333" stroke-width="0.5"/>
<text x="350.25" y="338.27" font-size="4.5" text-anchor="middle" fill="#222" stroke="#222" stroke-width=".12">WC</text>
<polyline points="344.4,340.6 344.4,384" fill="none" stroke="#555" stroke-width="0.5"/>
<polyline points="367,355 360,355 360,384" fill="none" stroke="#999" stroke-width="0.5"/>
<text x="352.25" y="363.89" font-size="4.7" text-anchor="middle" fill="#222" stroke="#222" stroke-width=".12">WIR</text>
<polyline points="367.1,338 367.1,342.5" fill="none" stroke="#000" stroke-width="1.9" stroke-linejoin="miter"/>
<polyline points="367.1,353.1 367.1,386.25" fill="none" stroke="#000" stroke-width="1.9" stroke-linejoin="miter"/>
<polyline points="366.9,343.5 361.25,351 366.9,352.8" fill="none" stroke="#333" stroke-width="0.5"/>
<polyline points="437.5,322.75 437.5,386.5" fill="none" stroke="#000" stroke-width="2.6" stroke-linejoin="miter"/>
<polyline points="335.25,385.25 371.25,385.25" fill="none" stroke="#000" stroke-width="2.6" stroke-linejoin="miter"/>
<polyline points="371.25,385.25 398.75,385.25" fill="none" stroke="#6a6a6a" stroke-width="2.3"/>
<polyline points="371.25,385.25 398.75,385.25" fill="none" stroke="#8e8e8e" stroke-width="1.38"/>
<polyline points="398.75,385.25 405,385.25" fill="none" stroke="#000" stroke-width="2.6" stroke-linejoin="miter"/>
<polyline points="405,385.25 433.75,385.25" fill="none" stroke="#6a6a6a" stroke-width="2.3"/>
<polyline points="405,385.25 433.75,385.25" fill="none" stroke="#8e8e8e" stroke-width="1.38"/>
<polyline points="433.75,385.25 440.6,385.25" fill="none" stroke="#000" stroke-width="2.6" stroke-linejoin="miter"/>
<polyline points="440.6,385.25 470,385.25" fill="none" stroke="#6a6a6a" stroke-width="2.3"/>
<polyline points="440.6,385.25 470,385.25" fill="none" stroke="#8e8e8e" stroke-width="1.38"/>
<polyline points="470,385.25 475,385.25" fill="none" stroke="#000" stroke-width="2.6" stroke-linejoin="miter"/>
<text x="402.5" y="353.85" font-size="5" text-anchor="middle" fill="#222" stroke="#222" stroke-width=".12">Main Bedroom</text>
<text x="402.5" y="359.65" font-size="5" text-anchor="middle" fill="#222" stroke="#222" stroke-width=".12">5.5 x 5.8</text>
<path d="M474 326.5L463.4 326.5A10.6 10.6 0 0 0 474 337.1" fill="#fff" stroke="#333" stroke-width="0.5"/>
<polyline points="474,326.5 474,336" fill="none" stroke="#777" stroke-width="1"/>
<polyline points="473.9,335.5 473.9,340" fill="none" stroke="#000" stroke-width="2.6" stroke-linejoin="miter"/>
<polyline points="473.9,340 473.9,367.75" fill="none" stroke="#6a6a6a" stroke-width="2.1"/>
<polyline points="473.9,340 473.9,367.75" fill="none" stroke="#8e8e8e" stroke-width="1.26"/>
<polyline points="473.9,367.75 473.9,386.5" fill="none" stroke="#000" stroke-width="2.6" stroke-linejoin="miter"/>
<polyline points="438.8,339 446.25,339 446.25,376 472.75,376" fill="none" stroke="#333" stroke-width="0.5"/>
<text x="442.5" y="359.78" font-size="4.8" text-anchor="middle" fill="#222" stroke="#222" stroke-width=".12" transform="rotate(-90 442.5 358.1)">Bench Seat</text>
<text x="460.6" y="353.65" font-size="5" text-anchor="middle" fill="#222" stroke="#222" stroke-width=".12">Sunroom</text>
<text x="460.6" y="359.25" font-size="5" text-anchor="middle" fill="#222" stroke="#222" stroke-width=".12">2.7 x 4.8</text>
<polyline points="592,256.9 592,165.6 634.4,165.6" fill="none" stroke="#000" stroke-width="2.8" stroke-linejoin="miter"/>
<polyline points="592,164.2 592,166" fill="none" stroke="#000" stroke-width="2.8" stroke-linejoin="miter"/>
<polyline points="634.4,164.2 634.4,181.25" fill="none" stroke="#000" stroke-width="2.5" stroke-linejoin="miter"/>
<polyline points="634.4,190.6 634.4,198.9" fill="none" stroke="#000" stroke-width="2.5" stroke-linejoin="miter"/>
<polyline points="590.6,197.9 621.9,197.9" fill="none" stroke="#000" stroke-width="2.2" stroke-linejoin="miter"/>
<polyline points="631.9,198 635.6,198" fill="none" stroke="#000" stroke-width="1.8" stroke-linejoin="miter"/>
<polyline points="606.8,198 606.8,180.3 620.6,180.3" fill="none" stroke="#000" stroke-width="1.9" stroke-linejoin="miter"/>
<polyline points="620,179.4 620,183.2" fill="none" stroke="#000" stroke-width="1.6" stroke-linejoin="miter"/>
<text x="610.4" y="190.01" font-size="3.6" text-anchor="middle" fill="#222" stroke="#222" stroke-width=".12" transform="rotate(-90 610.4 188.75)">Store</text>
<text x="614" y="189.38" font-size="1.8" text-anchor="middle" fill="#666" transform="rotate(-90 614 188.75)">1.1 x 1.9</text>
<polyline points="605.6,167 605.6,179.4" fill="none" stroke="#444" stroke-width="0.4"/>
<polyline points="610,167 610,179.4" fill="none" stroke="#444" stroke-width="0.4"/>
<polyline points="613.1,167 613.1,179.4" fill="none" stroke="#444" stroke-width="0.4"/>
<polyline points="616.25,167 616.25,179.4" fill="none" stroke="#444" stroke-width="0.4"/>
<polyline points="620.6,167 620.6,179.4" fill="none" stroke="#444" stroke-width="0.4"/>
<polyline points="593.4,179.4 606,179.4" fill="none" stroke="#444" stroke-width="0.4"/>
<polyline points="593.4,183.1 606,183.1" fill="none" stroke="#444" stroke-width="0.4"/>
<polyline points="593.4,186.25 606,186.25" fill="none" stroke="#444" stroke-width="0.4"/>
<polyline points="593.4,189.4 606,189.4" fill="none" stroke="#444" stroke-width="0.4"/>
<polyline points="593.4,192.5 606,192.5" fill="none" stroke="#444" stroke-width="0.4"/>
<polyline points="593.4,195.6 606,195.6" fill="none" stroke="#444" stroke-width="0.4"/>
<polyline points="599.4,195.6 599.4,172.5 626.9,172.5 626.9,176.6" fill="none" stroke="#999" stroke-width="0.4"/>
<path d="M625.8 176.4l1.1 2.4l1.1 -2.4z" fill="#000" stroke="#000" stroke-width="0.2"/>
<polyline points="624.4,181.6 633.2,181.6" fill="none" stroke="#333" stroke-width="0.5"/>
<polyline points="624.4,181.6 625.3,186.5 630,193 633.2,190.6" fill="none" stroke="#333" stroke-width="0.5"/>
<polyline points="621.5,195.8 623.6,204.4 631.9,198.2" fill="none" stroke="#333" stroke-width="0.5"/>
<polyline points="621.5,195.8 629.5,194.5" fill="none" stroke="#333" stroke-width="0.5"/>
<polyline points="619.4,198.9 619.4,217.2" fill="none" stroke="#777" stroke-width="0.5"/>
<polyline points="635,199 635,217.2" fill="none" stroke="#999" stroke-width="0.5"/>
<polyline points="619.4,208.1 635,208.1" fill="none" stroke="#444" stroke-width="0.4"/>
<polyline points="619.4,211.25 635,211.25" fill="none" stroke="#444" stroke-width="0.4"/>
<polyline points="619.4,214.4 635,214.4" fill="none" stroke="#444" stroke-width="0.4"/>
<polyline points="619.4,217.2 635,217.2" fill="none" stroke="#444" stroke-width="0.4"/>
<polyline points="627.5,208.1 627.5,214.5" fill="none" stroke="#444" stroke-width="0.4"/>
<path d="M626.4 214l1.1 2.6l1.1 -2.6z" fill="#000" stroke="#000" stroke-width="0.2"/>
<polyline points="635,217.2 700,217.2 700,281.5 624.4,281.5 592,257" fill="none" stroke="#333" stroke-width="0.9"/>
<polyline points="647.2,218.1 681.4,218.1" fill="none" stroke="#222" stroke-width="1.7" stroke-linejoin="miter"/>
<text x="649.4" y="246.75" font-size="5" text-anchor="middle" fill="#222" stroke="#222" stroke-width=".12">Terrace</text>
<text x="649.4" y="252.75" font-size="5" text-anchor="middle" fill="#222" stroke="#222" stroke-width=".12">8.4 x 6.6</text>
<text x="684.2" y="297.93" font-size="9.5" text-anchor="middle" fill="#111" stroke="#111" stroke-width=".22">Roof Top</text>
<polyline points="591.5,319.75 591.5,383" fill="none" stroke="#000" stroke-width="2.8" stroke-linejoin="miter"/>
<polyline points="591.45,383 591.45,436.9" fill="none" stroke="#6a6a6a" stroke-width="2.8"/>
<polyline points="591.45,383 591.45,436.9" fill="none" stroke="#8e8e8e" stroke-width="1.68"/>
<polyline points="591.5,436.9 591.5,444.75" fill="none" stroke="#000" stroke-width="2.8" stroke-linejoin="miter"/>
<polyline points="590.3,321 623.1,321" fill="none" stroke="#000" stroke-width="2.5" stroke-linejoin="miter"/>
<polyline points="631.9,321 651.25,321" fill="none" stroke="#000" stroke-width="2.5" stroke-linejoin="miter"/>
<polyline points="650,319.75 650,378.7" fill="none" stroke="#000" stroke-width="2.5" stroke-linejoin="miter"/>
<polyline points="648.8,377.4 690.25,377.4" fill="none" stroke="#000" stroke-width="2.7" stroke-linejoin="miter"/>
<polyline points="688.9,376 688.9,444.75" fill="none" stroke="#000" stroke-width="2.7" stroke-linejoin="miter"/>
<polyline points="590.25,443.3 626,443.3" fill="none" stroke="#000" stroke-width="2.8" stroke-linejoin="miter"/>
<polyline points="626,443.3 654,443.3" fill="none" stroke="#6a6a6a" stroke-width="2.6"/>
<polyline points="626,443.3 654,443.3" fill="none" stroke="#8e8e8e" stroke-width="1.56"/>
<polyline points="654,443.3 660,443.3" fill="none" stroke="#000" stroke-width="2.8" stroke-linejoin="miter"/>
<polyline points="660,443.3 685.6,443.3" fill="none" stroke="#6a6a6a" stroke-width="2.6"/>
<polyline points="660,443.3 685.6,443.3" fill="none" stroke="#8e8e8e" stroke-width="1.56"/>
<polyline points="685.6,443.3 690.25,443.3" fill="none" stroke="#000" stroke-width="2.8" stroke-linejoin="miter"/>
<path d="M631.9 319.9L631.9 310.15A9.75 9.75 0 0 0 622.15 319.9" fill="#fff" stroke="#333" stroke-width="0.5"/>
<polyline points="597.5,322.3 597.5,369" fill="none" stroke="#666" stroke-width="0.5"/>
<polyline points="616.9,322.3 616.9,332" fill="none" stroke="#aaa" stroke-width="0.4"/>
<polyline points="616.9,342 616.9,354" fill="none" stroke="#aaa" stroke-width="0.4"/>
<polyline points="621,319.75 621,332.2" fill="none" stroke="#000" stroke-width="1.9" stroke-linejoin="miter"/>
<polyline points="621,341.9 621,354.6" fill="none" stroke="#000" stroke-width="1.7" stroke-linejoin="miter"/>
<polyline points="620.6,366.9 620.6,378.75" fill="none" stroke="#000" stroke-width="1.8" stroke-linejoin="miter"/>
<path d="M621.5 332.5L611.5 332.5A10 10 0 0 0 621.5 342.5" fill="#fff" stroke="#333" stroke-width="0.5"/>
<path d="M621.5 366.9L611.2 366.9A10.3 10.3 0 0 1 621.5 356.6" fill="#fff" stroke="#333" stroke-width="0.5"/>
<polyline points="593,369.8 621.2,369.8" fill="none" stroke="#000" stroke-width="1.5" stroke-linejoin="miter"/>
<polyline points="593.1,378.5 623.1,378.5" fill="none" stroke="#444" stroke-width="0.5"/>
<polyline points="612.75,370.5 612.75,378.5" fill="none" stroke="#444" stroke-width="0.5"/>
<text x="616.1" y="375.69" font-size="3.4" text-anchor="middle" fill="#222" stroke="#222" stroke-width=".12">Ref</text>
<polyline points="623.1,367.8 623.1,378.5" fill="none" stroke="#555" stroke-width="0.9"/>
<path d="M623.1 367.75A10.6 10.6 0 0 1 631.9 378.5" fill="none" stroke="#333" stroke-width="0.5"/>
<rect x="632.5" y="377.5" width="3.5" height="1.25" fill="#000" stroke="#000" stroke-width="0.2"/>
<rect x="621.9" y="377.5" width="1.3" height="1.25" fill="#000" stroke="#000" stroke-width="0.2"/>
<text x="607.2" y="345.95" font-size="5" text-anchor="middle" fill="#222" stroke="#222" stroke-width=".12">Wine</text>
<text x="607.5" y="351.45" font-size="5" text-anchor="middle" fill="#222" stroke="#222" stroke-width=".12">2.2 x 3.8</text>
<text x="635.6" y="325.76" font-size="3.9" text-anchor="middle" fill="#222" stroke="#222" stroke-width=".12">Storage</text>
<text x="635" y="329.87" font-size="3.9" text-anchor="middle" fill="#222" stroke="#222" stroke-width=".12">Under</text>
<text x="634.75" y="333.87" font-size="3.9" text-anchor="middle" fill="#222" stroke="#222" stroke-width=".12">Stairs</text>
<polyline points="635.3,332.5 635.3,378.75" fill="none" stroke="#000" stroke-width="1.8" stroke-linejoin="miter"/>
<polyline points="634.4,341.3 649.4,341.3" fill="none" stroke="#000" stroke-width="1.8" stroke-linejoin="miter"/>
<polyline points="621.9,342.25 634.4,342.25" fill="none" stroke="#444" stroke-width="0.4"/>
<polyline points="621.9,345.6 634.4,345.6" fill="none" stroke="#444" stroke-width="0.4"/>
<polyline points="621.9,349 634.4,349" fill="none" stroke="#444" stroke-width="0.4"/>
<polyline points="621.9,352.25 634.4,352.25" fill="none" stroke="#444" stroke-width="0.4"/>
<polyline points="627.5,352 627.5,345" fill="none" stroke="#444" stroke-width="0.4"/>
<path d="M626.5 345.2l1 -2.4l1 2.4z" fill="#000" stroke="#000" stroke-width="0.2"/>
<text x="642.25" y="352.88" font-size="4.5" text-anchor="middle" fill="#222" stroke="#222" stroke-width=".12">PDR</text>
<path d="M640 342.6L645 342.6L645 346A2.5 2.3 0 0 1 640 346z" fill="none" stroke="#333" stroke-width="0.5"/>
<polyline points="635.4,354 639.75,355.6 636.3,363.75" fill="none" stroke="#333" stroke-width="0.5"/>
<path d="M621.9 354.6Q630 352.5 635 355.5" fill="none" stroke="#555" stroke-width="0.5"/>
<polyline points="648.75,358.75 642.5,364.4" fill="none" stroke="#666" stroke-width="0.4"/>
<rect x="639.4" y="364.4" width="5.6" height="4.6" fill="#bbb" stroke="#222" stroke-width="0.5"/>
<rect x="641.4" y="365.4" width="1.8" height="2.9" fill="#fff" stroke="#000" stroke-width="0.3"/>
<polyline points="636,369.8 649,369.8" fill="none" stroke="#000" stroke-width="1.5" stroke-linejoin="miter"/>
<circle cx="641.9" cy="374.75" r="2.6" fill="none" stroke="#222" stroke-width="0.55"/>
<polyline points="641.9,371.9 641.9,373.6" fill="none" stroke="#222" stroke-width="0.5"/>
<rect x="681.5" y="401.9" width="5" height="14.35" fill="none" stroke="#555" stroke-width="0.4" stroke-dasharray="1.2 .7"/>
<text x="684" y="410.6" font-size="4" text-anchor="middle" fill="#222" stroke="#222" stroke-width=".12" transform="rotate(90 684 409.2)">AC</text>
<text x="640.25" y="407.35" font-size="5" text-anchor="middle" fill="#222" stroke="#222" stroke-width=".12">Rumpus</text>
<text x="640.95" y="412.75" font-size="5" text-anchor="middle" fill="#222" stroke="#222" stroke-width=".12">7.6 x 5.1</text>
<text x="648.6" y="460.02" font-size="9.5" text-anchor="middle" fill="#111" stroke="#111" stroke-width=".22">Lower Ground Floor</text>
<circle cx="727.7" cy="515.2" r="12.6" fill="none" stroke="#444" stroke-width="0.6"/>
<polyline points="725,503.2 729.7,527.7" fill="none" stroke="#444" stroke-width="0.5"/>
<polyline points="727.7,515.3 740.4,512.6" fill="none" stroke="#444" stroke-width="0.5"/>
<polyline points="715.2,517.9 727.7,515.3" fill="none" stroke="#111" stroke-width="1.5"/>
<text x="725" y="501.75" font-size="9" text-anchor="middle" fill="#222" stroke="#222" stroke-width=".22">E</text>
<text x="744.6" y="514.95" font-size="9" text-anchor="middle" fill="#222" stroke="#222" stroke-width=".22">S</text>
<text x="710.7" y="521.55" font-size="9" text-anchor="middle" fill="#222" stroke="#222" stroke-width=".22">N</text>
<text x="730.8" y="535.95" font-size="9" text-anchor="middle" fill="#222" stroke="#222" stroke-width=".22">W</text>
</svg></body></html>
